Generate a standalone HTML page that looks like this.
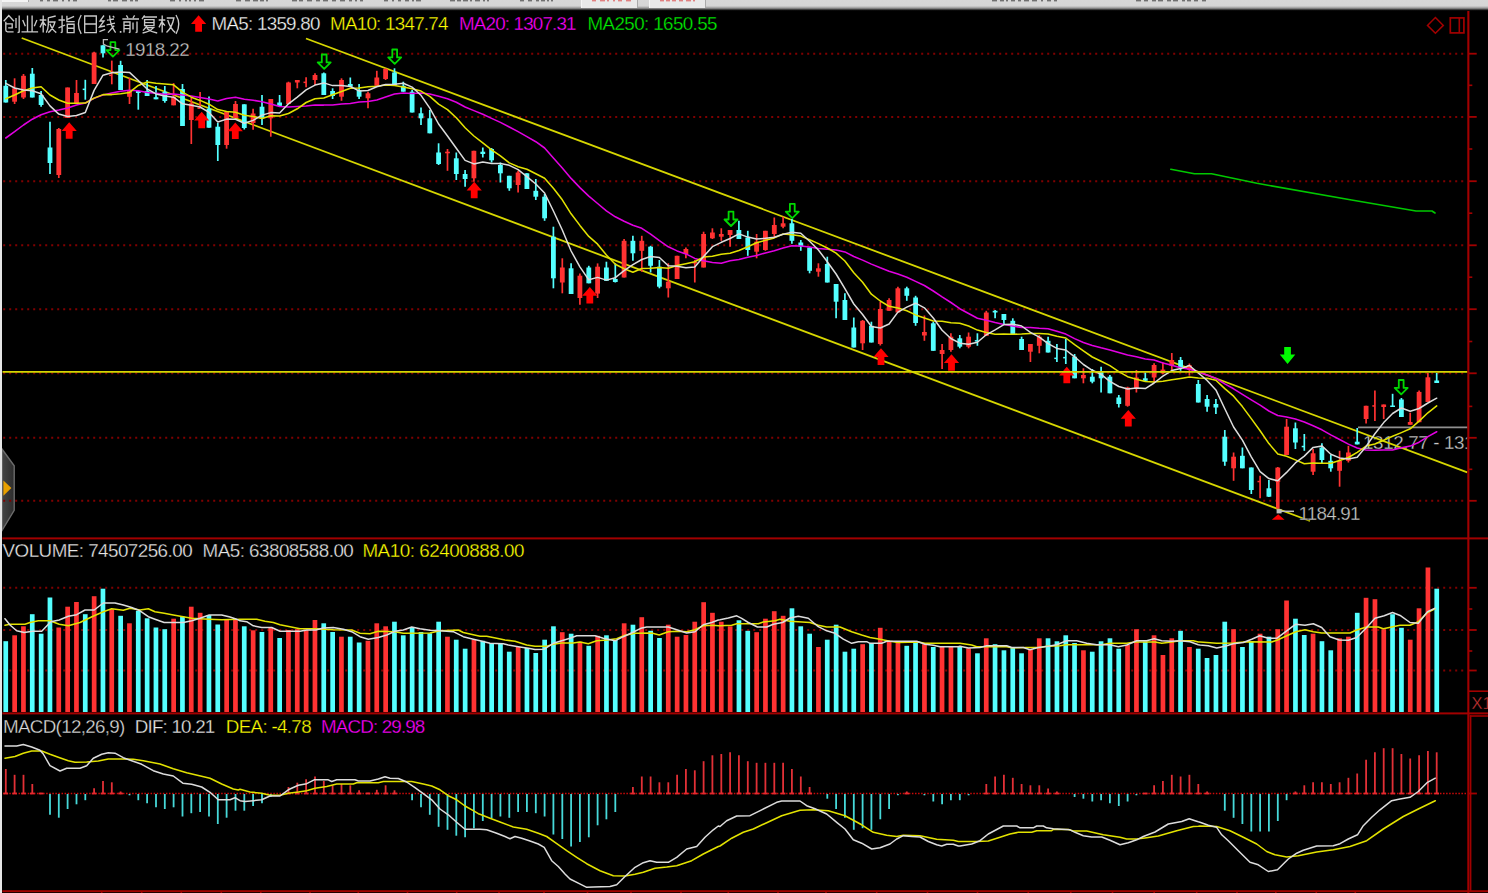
<!DOCTYPE html>
<html><head><meta charset="utf-8"><title>chart</title>
<style>
html,body{margin:0;padding:0;background:#000;}
body{width:1488px;height:893px;overflow:hidden;position:relative;font-family:"Liberation Sans",sans-serif;}
#top{position:absolute;left:0;top:0;width:1488px;height:11px;background:linear-gradient(to bottom,#d8d8d8 0,#d6d6d6 5.5px,#bdbdbd 7px,#7c7c7c 8.6px,#2a2a2a 9.9px,#000 10.7px);}
#left{position:absolute;left:0;top:0;width:2.3px;height:893px;background:#e6e6e6;}
svg{position:absolute;left:0;top:0;}
text{font-family:"Liberation Sans",sans-serif;stroke:#000;stroke-width:0.3px;}
.btn{position:absolute;top:0;height:8px;background:#e9e9e9;border-left:1px solid #f6f6f6;border-right:1px solid #aaa;}
</style></head><body>
<svg width="1488" height="893" viewBox="0 0 1488 893">
<rect x="0" y="0" width="1488" height="893" fill="#000"/>
<defs><linearGradient id="tg" x1="0" x2="1" y1="0" y2="0"><stop offset="0" stop-color="#454545"/><stop offset="1" stop-color="#2c2c2c"/></linearGradient></defs>
<path d="M2 449 L14.2 465.8 V510.4 L2 530.6 Z" fill="url(#tg)" stroke="#6c6c6c" stroke-width="1.4"/>
<path d="M3.4 480.4 L11.4 488 L3.4 495.8 Z" fill="#e8a000"/>
<line x1="3.2" y1="53.7" x2="1464" y2="53.7" stroke="#800000" stroke-width="2" stroke-dasharray="2 4"/>
<line x1="3.2" y1="116.9" x2="1464" y2="116.9" stroke="#800000" stroke-width="2" stroke-dasharray="2 4"/>
<line x1="3.2" y1="181.2" x2="1464" y2="181.2" stroke="#800000" stroke-width="2" stroke-dasharray="2 4"/>
<line x1="3.2" y1="245.3" x2="1464" y2="245.3" stroke="#800000" stroke-width="2" stroke-dasharray="2 4"/>
<line x1="3.2" y1="309.2" x2="1464" y2="309.2" stroke="#800000" stroke-width="2" stroke-dasharray="2 4"/>
<line x1="3.2" y1="373.3" x2="1464" y2="373.3" stroke="#800000" stroke-width="2" stroke-dasharray="2 4"/>
<line x1="3.2" y1="437.8" x2="1464" y2="437.8" stroke="#800000" stroke-width="2" stroke-dasharray="2 4"/>
<line x1="3.2" y1="500.8" x2="1464" y2="500.8" stroke="#800000" stroke-width="2" stroke-dasharray="2 4"/>
<line x1="3.2" y1="587.8" x2="1464" y2="587.8" stroke="#800000" stroke-width="2" stroke-dasharray="2 4"/>
<line x1="3.2" y1="630" x2="1464" y2="630" stroke="#800000" stroke-width="2" stroke-dasharray="2 4"/>
<line x1="3.2" y1="670.5" x2="1464" y2="670.5" stroke="#800000" stroke-width="2" stroke-dasharray="2 4"/>
<rect x="1357.6" y="428.2" width="109.8" height="23.5" fill="#000"/>
<clipPath id="lc"><rect x="1357" y="428" width="110.3" height="25"/></clipPath>
<text clip-path="url(#lc)" x="1363" y="449.2" fill="#c8c8c8" font-size="18.8" textLength="111.5" lengthAdjust="spacing">1312.77 - 131</text>
<line x1="1358" y1="427.4" x2="1467.5" y2="427.4" stroke="#909090" stroke-width="1.7"/>
<line x1="21.7" y1="38" x2="1310" y2="521" stroke="#d6d600" stroke-width="1.8"/>
<line x1="306" y1="38.5" x2="1467.3" y2="472.3" stroke="#d6d600" stroke-width="1.8"/>
<line x1="5.8" y1="80" x2="5.8" y2="102.5" stroke="#54ffff" stroke-width="1.7"/>
<rect x="3.4" y="85.8" width="4.8" height="16.7" fill="#54ffff"/>
<line x1="14.6" y1="78.3" x2="14.6" y2="104" stroke="#ff3232" stroke-width="1.7"/>
<rect x="12.2" y="88.3" width="4.8" height="13.4" fill="#ff3232"/>
<line x1="23.5" y1="74" x2="23.5" y2="99" stroke="#ff3232" stroke-width="1.7"/>
<rect x="21.1" y="75.8" width="4.8" height="21.7" fill="#ff3232"/>
<line x1="32.3" y1="68" x2="32.3" y2="97.5" stroke="#54ffff" stroke-width="1.7"/>
<rect x="29.9" y="73.7" width="4.8" height="23.8" fill="#54ffff"/>
<line x1="41.1" y1="91" x2="41.1" y2="106.7" stroke="#54ffff" stroke-width="1.7"/>
<rect x="38.7" y="95" width="4.8" height="10" fill="#54ffff"/>
<line x1="50" y1="121.7" x2="50" y2="174" stroke="#54ffff" stroke-width="1.7"/>
<rect x="47.6" y="147.5" width="4.8" height="15.5" fill="#54ffff"/>
<line x1="58.8" y1="128" x2="58.8" y2="178" stroke="#ff3232" stroke-width="1.7"/>
<rect x="56.4" y="129" width="4.8" height="46" fill="#ff3232"/>
<line x1="67.6" y1="87.5" x2="67.6" y2="118" stroke="#ff3232" stroke-width="1.7"/>
<rect x="65.2" y="87.5" width="4.8" height="30.5" fill="#ff3232"/>
<line x1="76.5" y1="80" x2="76.5" y2="103" stroke="#ff3232" stroke-width="1.7"/>
<rect x="74.1" y="93" width="4.8" height="10" fill="#ff3232"/>
<line x1="85.3" y1="79.8" x2="85.3" y2="99.7" stroke="#54ffff" stroke-width="1.7"/>
<rect x="82.7" y="88.6" width="2.6" height="1.5" fill="#54ffff"/>
<line x1="94.1" y1="51.7" x2="94.1" y2="84" stroke="#ff3232" stroke-width="1.7"/>
<rect x="91.7" y="52.5" width="4.8" height="31.5" fill="#ff3232"/>
<line x1="103" y1="45.3" x2="103" y2="57.5" stroke="#54ffff" stroke-width="1.7"/>
<rect x="100.6" y="45.3" width="4.8" height="8" fill="#54ffff"/>
<line x1="111.8" y1="60.6" x2="111.8" y2="84.3" stroke="#ff3232" stroke-width="1.7"/>
<rect x="109.2" y="74.6" width="2.6" height="1.5" fill="#ff3232"/>
<line x1="120.6" y1="60.8" x2="120.6" y2="90" stroke="#54ffff" stroke-width="1.7"/>
<rect x="118.2" y="65" width="4.8" height="25" fill="#54ffff"/>
<line x1="129.5" y1="77.7" x2="129.5" y2="104" stroke="#ff3232" stroke-width="1.7"/>
<rect x="127.1" y="91" width="4.8" height="5.8" fill="#ff3232"/>
<line x1="138.3" y1="90" x2="138.3" y2="109.7" stroke="#54ffff" stroke-width="1.7"/>
<rect x="135.9" y="91" width="4.8" height="2" fill="#54ffff"/>
<line x1="147.1" y1="80" x2="147.1" y2="96" stroke="#54ffff" stroke-width="1.7"/>
<rect x="144.7" y="91" width="4.8" height="5" fill="#54ffff"/>
<line x1="156" y1="86" x2="156" y2="99.3" stroke="#54ffff" stroke-width="1.7"/>
<rect x="153.6" y="97.2" width="4.8" height="2.1" fill="#54ffff"/>
<line x1="164.8" y1="86" x2="164.8" y2="102.7" stroke="#54ffff" stroke-width="1.7"/>
<rect x="162.4" y="91.8" width="4.8" height="9.2" fill="#54ffff"/>
<line x1="173.6" y1="83.1" x2="173.6" y2="105.3" stroke="#ff3232" stroke-width="1.7"/>
<rect x="171.2" y="96.9" width="4.8" height="8.4" fill="#ff3232"/>
<line x1="182.5" y1="84" x2="182.5" y2="126" stroke="#54ffff" stroke-width="1.7"/>
<rect x="180.1" y="89" width="4.8" height="37" fill="#54ffff"/>
<line x1="191.3" y1="97.3" x2="191.3" y2="144" stroke="#ff3232" stroke-width="1.7"/>
<rect x="188.9" y="103.4" width="4.8" height="16.6" fill="#ff3232"/>
<line x1="200.1" y1="92.1" x2="200.1" y2="108.6" stroke="#ff3232" stroke-width="1.7"/>
<rect x="197.5" y="107.4" width="2.6" height="1.5" fill="#ff3232"/>
<line x1="209" y1="96.6" x2="209" y2="127.7" stroke="#54ffff" stroke-width="1.7"/>
<rect x="206.6" y="108.6" width="4.8" height="19.1" fill="#54ffff"/>
<line x1="217.8" y1="123" x2="217.8" y2="161" stroke="#54ffff" stroke-width="1.7"/>
<rect x="215.4" y="126.7" width="4.8" height="18.3" fill="#54ffff"/>
<line x1="226.6" y1="111.7" x2="226.6" y2="148.7" stroke="#ff3232" stroke-width="1.7"/>
<rect x="224.2" y="111.7" width="4.8" height="33.3" fill="#ff3232"/>
<line x1="235.5" y1="101" x2="235.5" y2="118" stroke="#ff3232" stroke-width="1.7"/>
<rect x="233.1" y="104" width="4.8" height="14" fill="#ff3232"/>
<line x1="244.3" y1="104.3" x2="244.3" y2="129.5" stroke="#54ffff" stroke-width="1.7"/>
<rect x="241.9" y="104.3" width="4.8" height="23.7" fill="#54ffff"/>
<line x1="253.1" y1="108.7" x2="253.1" y2="129.7" stroke="#ff3232" stroke-width="1.7"/>
<rect x="250.7" y="113.5" width="4.8" height="9.5" fill="#ff3232"/>
<line x1="262" y1="95" x2="262" y2="125" stroke="#54ffff" stroke-width="1.7"/>
<rect x="259.6" y="106.7" width="4.8" height="11.6" fill="#54ffff"/>
<line x1="270.8" y1="99" x2="270.8" y2="136.7" stroke="#ff3232" stroke-width="1.7"/>
<rect x="268.4" y="99" width="4.8" height="19.3" fill="#ff3232"/>
<line x1="279.6" y1="95" x2="279.6" y2="106.7" stroke="#54ffff" stroke-width="1.7"/>
<rect x="277.2" y="102.5" width="4.8" height="3.3" fill="#54ffff"/>
<line x1="288.5" y1="81.7" x2="288.5" y2="104" stroke="#ff3232" stroke-width="1.7"/>
<rect x="286.1" y="82.5" width="4.8" height="21.5" fill="#ff3232"/>
<line x1="297.3" y1="80" x2="297.3" y2="88.3" stroke="#ff3232" stroke-width="1.7"/>
<rect x="294.9" y="80" width="4.8" height="2.5" fill="#ff3232"/>
<line x1="306.1" y1="77.3" x2="306.1" y2="87.3" stroke="#ff3232" stroke-width="1.7"/>
<rect x="303.5" y="81.6" width="2.6" height="1.5" fill="#ff3232"/>
<line x1="315" y1="73.3" x2="315" y2="85" stroke="#ff3232" stroke-width="1.7"/>
<rect x="312.6" y="75" width="4.8" height="5" fill="#ff3232"/>
<line x1="323.8" y1="72.5" x2="323.8" y2="95" stroke="#54ffff" stroke-width="1.7"/>
<rect x="321.4" y="73.3" width="4.8" height="21.7" fill="#54ffff"/>
<line x1="332.6" y1="88.3" x2="332.6" y2="99" stroke="#54ffff" stroke-width="1.7"/>
<rect x="330.2" y="91" width="4.8" height="5" fill="#54ffff"/>
<line x1="341.5" y1="78.3" x2="341.5" y2="100.8" stroke="#ff3232" stroke-width="1.7"/>
<rect x="339.1" y="80" width="4.8" height="16.7" fill="#ff3232"/>
<line x1="350.3" y1="77.5" x2="350.3" y2="86.7" stroke="#54ffff" stroke-width="1.7"/>
<rect x="347.9" y="84" width="4.8" height="2.7" fill="#54ffff"/>
<line x1="359.1" y1="84" x2="359.1" y2="99" stroke="#54ffff" stroke-width="1.7"/>
<rect x="356.7" y="90" width="4.8" height="6.7" fill="#54ffff"/>
<line x1="368" y1="91.7" x2="368" y2="108.3" stroke="#ff3232" stroke-width="1.7"/>
<rect x="365.6" y="93.3" width="4.8" height="5" fill="#ff3232"/>
<line x1="376.8" y1="70.8" x2="376.8" y2="85.8" stroke="#ff3232" stroke-width="1.7"/>
<rect x="374.4" y="77.5" width="4.8" height="8.3" fill="#ff3232"/>
<line x1="385.6" y1="68.3" x2="385.6" y2="80" stroke="#ff3232" stroke-width="1.7"/>
<rect x="383.2" y="69" width="4.8" height="10" fill="#ff3232"/>
<line x1="394.5" y1="68.3" x2="394.5" y2="85" stroke="#54ffff" stroke-width="1.7"/>
<rect x="392.1" y="72.5" width="4.8" height="12.5" fill="#54ffff"/>
<line x1="403.3" y1="81.7" x2="403.3" y2="91.7" stroke="#54ffff" stroke-width="1.7"/>
<rect x="400.9" y="85.8" width="4.8" height="5.9" fill="#54ffff"/>
<line x1="412.1" y1="90" x2="412.1" y2="112.5" stroke="#54ffff" stroke-width="1.7"/>
<rect x="409.7" y="91.7" width="4.8" height="20.8" fill="#54ffff"/>
<line x1="421" y1="107.5" x2="421" y2="125" stroke="#54ffff" stroke-width="1.7"/>
<rect x="418.6" y="113.3" width="4.8" height="5" fill="#54ffff"/>
<line x1="429.8" y1="110" x2="429.8" y2="133.3" stroke="#54ffff" stroke-width="1.7"/>
<rect x="427.4" y="118.3" width="4.8" height="15" fill="#54ffff"/>
<line x1="438.6" y1="143.3" x2="438.6" y2="165" stroke="#54ffff" stroke-width="1.7"/>
<rect x="436.2" y="152.5" width="4.8" height="11.5" fill="#54ffff"/>
<line x1="447.5" y1="149" x2="447.5" y2="170.8" stroke="#ff3232" stroke-width="1.7"/>
<rect x="445.1" y="151.7" width="4.8" height="1.6" fill="#ff3232"/>
<line x1="456.3" y1="152.5" x2="456.3" y2="180" stroke="#54ffff" stroke-width="1.7"/>
<rect x="453.9" y="158.3" width="4.8" height="15.7" fill="#54ffff"/>
<line x1="465.1" y1="170" x2="465.1" y2="186.7" stroke="#54ffff" stroke-width="1.7"/>
<rect x="462.7" y="174" width="4.8" height="5" fill="#54ffff"/>
<line x1="473.9" y1="150.8" x2="473.9" y2="181.7" stroke="#ff3232" stroke-width="1.7"/>
<rect x="471.5" y="150.8" width="4.8" height="27.5" fill="#ff3232"/>
<line x1="482.8" y1="147.5" x2="482.8" y2="157.5" stroke="#54ffff" stroke-width="1.7"/>
<rect x="480.4" y="151.7" width="4.8" height="2.3" fill="#54ffff"/>
<line x1="491.6" y1="148" x2="491.6" y2="162.5" stroke="#54ffff" stroke-width="1.7"/>
<rect x="489.2" y="149" width="4.8" height="11.3" fill="#54ffff"/>
<line x1="500.4" y1="162.5" x2="500.4" y2="182.5" stroke="#54ffff" stroke-width="1.7"/>
<rect x="498" y="165" width="4.8" height="8.3" fill="#54ffff"/>
<line x1="509.3" y1="175.8" x2="509.3" y2="190.8" stroke="#54ffff" stroke-width="1.7"/>
<rect x="506.9" y="175.8" width="4.8" height="12.5" fill="#54ffff"/>
<line x1="518.1" y1="170.8" x2="518.1" y2="192.5" stroke="#ff3232" stroke-width="1.7"/>
<rect x="515.7" y="172.5" width="4.8" height="12.5" fill="#ff3232"/>
<line x1="526.9" y1="173.3" x2="526.9" y2="189" stroke="#54ffff" stroke-width="1.7"/>
<rect x="524.5" y="173.3" width="4.8" height="15.7" fill="#54ffff"/>
<line x1="535.8" y1="179" x2="535.8" y2="200" stroke="#54ffff" stroke-width="1.7"/>
<rect x="533.4" y="190.8" width="4.8" height="5.9" fill="#54ffff"/>
<line x1="544.6" y1="194" x2="544.6" y2="220.8" stroke="#54ffff" stroke-width="1.7"/>
<rect x="542.2" y="196.7" width="4.8" height="21.6" fill="#54ffff"/>
<line x1="553.4" y1="226.7" x2="553.4" y2="288.3" stroke="#54ffff" stroke-width="1.7"/>
<rect x="551" y="236.7" width="4.8" height="41.6" fill="#54ffff"/>
<line x1="562.3" y1="258.3" x2="562.3" y2="293.3" stroke="#ff3232" stroke-width="1.7"/>
<rect x="559.9" y="267.5" width="4.8" height="15" fill="#ff3232"/>
<line x1="571.1" y1="263.3" x2="571.1" y2="294" stroke="#54ffff" stroke-width="1.7"/>
<rect x="568.7" y="268.3" width="4.8" height="25.7" fill="#54ffff"/>
<line x1="579.9" y1="273.4" x2="579.9" y2="304.8" stroke="#ff3232" stroke-width="1.7"/>
<rect x="577.5" y="275.7" width="4.8" height="22.3" fill="#ff3232"/>
<line x1="588.8" y1="265.8" x2="588.8" y2="283.3" stroke="#54ffff" stroke-width="1.7"/>
<rect x="586.4" y="267.5" width="4.8" height="15.8" fill="#54ffff"/>
<line x1="597.6" y1="263.4" x2="597.6" y2="298" stroke="#ff3232" stroke-width="1.7"/>
<rect x="595.2" y="266.7" width="4.8" height="26.9" fill="#ff3232"/>
<line x1="606.4" y1="261.7" x2="606.4" y2="280.8" stroke="#54ffff" stroke-width="1.7"/>
<rect x="604" y="267.5" width="4.8" height="13.3" fill="#54ffff"/>
<line x1="615.3" y1="263.3" x2="615.3" y2="282.5" stroke="#54ffff" stroke-width="1.7"/>
<rect x="612.9" y="279" width="4.8" height="3" fill="#54ffff"/>
<line x1="624.1" y1="239" x2="624.1" y2="277.5" stroke="#ff3232" stroke-width="1.7"/>
<rect x="621.7" y="240.8" width="4.8" height="36.7" fill="#ff3232"/>
<line x1="632.9" y1="235.8" x2="632.9" y2="260.8" stroke="#54ffff" stroke-width="1.7"/>
<rect x="630.5" y="240.8" width="4.8" height="12.5" fill="#54ffff"/>
<line x1="641.8" y1="235.8" x2="641.8" y2="271.7" stroke="#ff3232" stroke-width="1.7"/>
<rect x="639.4" y="240.8" width="4.8" height="10" fill="#ff3232"/>
<line x1="650.6" y1="245.8" x2="650.6" y2="272.5" stroke="#54ffff" stroke-width="1.7"/>
<rect x="648.2" y="246.7" width="4.8" height="19.1" fill="#54ffff"/>
<line x1="659.4" y1="260" x2="659.4" y2="288.3" stroke="#54ffff" stroke-width="1.7"/>
<rect x="657" y="266.7" width="4.8" height="20" fill="#54ffff"/>
<line x1="668.3" y1="263.3" x2="668.3" y2="297.5" stroke="#ff3232" stroke-width="1.7"/>
<rect x="665.9" y="281.7" width="4.8" height="6.6" fill="#ff3232"/>
<line x1="677.1" y1="255.8" x2="677.1" y2="279" stroke="#ff3232" stroke-width="1.7"/>
<rect x="674.7" y="255.8" width="4.8" height="23.2" fill="#ff3232"/>
<line x1="685.9" y1="247.5" x2="685.9" y2="258.3" stroke="#ff3232" stroke-width="1.7"/>
<rect x="683.5" y="249" width="4.8" height="5" fill="#ff3232"/>
<line x1="694.8" y1="260" x2="694.8" y2="282.5" stroke="#ff3232" stroke-width="1.7"/>
<rect x="692.4" y="262" width="4.8" height="1.5" fill="#ff3232"/>
<line x1="703.6" y1="231.7" x2="703.6" y2="267.5" stroke="#ff3232" stroke-width="1.7"/>
<rect x="701.2" y="234" width="4.8" height="33.5" fill="#ff3232"/>
<line x1="712.4" y1="228.3" x2="712.4" y2="239" stroke="#ff3232" stroke-width="1.7"/>
<rect x="710" y="232.5" width="4.8" height="5.8" fill="#ff3232"/>
<line x1="721.3" y1="228.3" x2="721.3" y2="240.8" stroke="#ff3232" stroke-width="1.7"/>
<rect x="718.9" y="234" width="4.8" height="2.7" fill="#ff3232"/>
<line x1="730.1" y1="230" x2="730.1" y2="246.7" stroke="#ff3232" stroke-width="1.7"/>
<rect x="727.7" y="230" width="4.8" height="5" fill="#ff3232"/>
<line x1="738.9" y1="220.8" x2="738.9" y2="239" stroke="#54ffff" stroke-width="1.7"/>
<rect x="736.5" y="230" width="4.8" height="9" fill="#54ffff"/>
<line x1="747.8" y1="230.8" x2="747.8" y2="255.8" stroke="#54ffff" stroke-width="1.7"/>
<rect x="745.4" y="237.5" width="4.8" height="12.5" fill="#54ffff"/>
<line x1="756.6" y1="234" x2="756.6" y2="258.3" stroke="#ff3232" stroke-width="1.7"/>
<rect x="754.2" y="241.7" width="4.8" height="10" fill="#ff3232"/>
<line x1="765.4" y1="230.8" x2="765.4" y2="250.8" stroke="#ff3232" stroke-width="1.7"/>
<rect x="763" y="230.8" width="4.8" height="19.2" fill="#ff3232"/>
<line x1="774.3" y1="217.5" x2="774.3" y2="237.5" stroke="#ff3232" stroke-width="1.7"/>
<rect x="771.9" y="225" width="4.8" height="9" fill="#ff3232"/>
<line x1="783.1" y1="216.7" x2="783.1" y2="228.3" stroke="#ff3232" stroke-width="1.7"/>
<rect x="780.7" y="223.3" width="4.8" height="3.4" fill="#ff3232"/>
<line x1="791.9" y1="219" x2="791.9" y2="243.7" stroke="#54ffff" stroke-width="1.7"/>
<rect x="789.5" y="223.3" width="4.8" height="17.5" fill="#54ffff"/>
<line x1="800.8" y1="240" x2="800.8" y2="250.8" stroke="#54ffff" stroke-width="1.7"/>
<rect x="798.4" y="242.5" width="4.8" height="4.2" fill="#54ffff"/>
<line x1="809.6" y1="246.7" x2="809.6" y2="273.3" stroke="#54ffff" stroke-width="1.7"/>
<rect x="807.2" y="247.5" width="4.8" height="23.3" fill="#54ffff"/>
<line x1="818.4" y1="263.3" x2="818.4" y2="276.7" stroke="#ff3232" stroke-width="1.7"/>
<rect x="816" y="268.3" width="4.8" height="3.4" fill="#ff3232"/>
<line x1="827.3" y1="256.7" x2="827.3" y2="282.5" stroke="#54ffff" stroke-width="1.7"/>
<rect x="824.9" y="264" width="4.8" height="18.5" fill="#54ffff"/>
<line x1="836.1" y1="284" x2="836.1" y2="318.3" stroke="#54ffff" stroke-width="1.7"/>
<rect x="833.7" y="284" width="4.8" height="17.7" fill="#54ffff"/>
<line x1="844.9" y1="293.3" x2="844.9" y2="320" stroke="#54ffff" stroke-width="1.7"/>
<rect x="842.5" y="300" width="4.8" height="20" fill="#54ffff"/>
<line x1="853.8" y1="317.5" x2="853.8" y2="347.5" stroke="#54ffff" stroke-width="1.7"/>
<rect x="851.4" y="327.5" width="4.8" height="20" fill="#54ffff"/>
<line x1="862.6" y1="320" x2="862.6" y2="350" stroke="#ff3232" stroke-width="1.7"/>
<rect x="860.2" y="320.8" width="4.8" height="22.5" fill="#ff3232"/>
<line x1="871.4" y1="321.7" x2="871.4" y2="342.5" stroke="#54ffff" stroke-width="1.7"/>
<rect x="869" y="325.8" width="4.8" height="16.7" fill="#54ffff"/>
<line x1="880.3" y1="301.7" x2="880.3" y2="345.5" stroke="#ff3232" stroke-width="1.7"/>
<rect x="877.9" y="309" width="4.8" height="35" fill="#ff3232"/>
<line x1="889.1" y1="298.3" x2="889.1" y2="310.8" stroke="#ff3232" stroke-width="1.7"/>
<rect x="886.7" y="300" width="4.8" height="10.8" fill="#ff3232"/>
<line x1="897.9" y1="286.7" x2="897.9" y2="312.5" stroke="#ff3232" stroke-width="1.7"/>
<rect x="895.5" y="288.3" width="4.8" height="24.2" fill="#ff3232"/>
<line x1="906.8" y1="286.7" x2="906.8" y2="300.8" stroke="#54ffff" stroke-width="1.7"/>
<rect x="904.4" y="288.3" width="4.8" height="7.5" fill="#54ffff"/>
<line x1="915.6" y1="295.8" x2="915.6" y2="325.8" stroke="#54ffff" stroke-width="1.7"/>
<rect x="913.2" y="297.5" width="4.8" height="25.5" fill="#54ffff"/>
<line x1="924.4" y1="315.5" x2="924.4" y2="340.8" stroke="#ff3232" stroke-width="1.7"/>
<rect x="922" y="332" width="4.8" height="3.5" fill="#ff3232"/>
<line x1="933.3" y1="321.7" x2="933.3" y2="350.8" stroke="#54ffff" stroke-width="1.7"/>
<rect x="930.9" y="323.3" width="4.8" height="27.5" fill="#54ffff"/>
<line x1="942.1" y1="344" x2="942.1" y2="369" stroke="#ff3232" stroke-width="1.7"/>
<rect x="939.7" y="350" width="4.8" height="4" fill="#ff3232"/>
<line x1="950.9" y1="333.3" x2="950.9" y2="351.7" stroke="#ff3232" stroke-width="1.7"/>
<rect x="948.5" y="336.7" width="4.8" height="13.3" fill="#ff3232"/>
<line x1="959.8" y1="335" x2="959.8" y2="348.3" stroke="#54ffff" stroke-width="1.7"/>
<rect x="957.4" y="338.3" width="4.8" height="8.4" fill="#54ffff"/>
<line x1="968.6" y1="332.5" x2="968.6" y2="348.3" stroke="#ff3232" stroke-width="1.7"/>
<rect x="966.2" y="336.7" width="4.8" height="10" fill="#ff3232"/>
<line x1="977.4" y1="333.3" x2="977.4" y2="345.8" stroke="#54ffff" stroke-width="1.7"/>
<rect x="974.8" y="340.1" width="2.6" height="1.5" fill="#54ffff"/>
<line x1="986.3" y1="310.8" x2="986.3" y2="335.8" stroke="#ff3232" stroke-width="1.7"/>
<rect x="983.9" y="312.5" width="4.8" height="23.3" fill="#ff3232"/>
<line x1="995.1" y1="310" x2="995.1" y2="318.3" stroke="#54ffff" stroke-width="1.7"/>
<rect x="992.7" y="310.8" width="4.8" height="1.7" fill="#54ffff"/>
<line x1="1003.9" y1="314" x2="1003.9" y2="324" stroke="#54ffff" stroke-width="1.7"/>
<rect x="1001.5" y="314" width="4.8" height="6" fill="#54ffff"/>
<line x1="1012.8" y1="318.3" x2="1012.8" y2="335" stroke="#54ffff" stroke-width="1.7"/>
<rect x="1010.4" y="320.8" width="4.8" height="14.2" fill="#54ffff"/>
<line x1="1021.6" y1="336.7" x2="1021.6" y2="350" stroke="#54ffff" stroke-width="1.7"/>
<rect x="1019.2" y="339" width="4.8" height="11" fill="#54ffff"/>
<line x1="1030.4" y1="344" x2="1030.4" y2="362" stroke="#ff3232" stroke-width="1.7"/>
<rect x="1028" y="344" width="4.8" height="7.7" fill="#ff3232"/>
<line x1="1039.3" y1="335" x2="1039.3" y2="353.3" stroke="#ff3232" stroke-width="1.7"/>
<rect x="1036.9" y="336.7" width="4.8" height="9.1" fill="#ff3232"/>
<line x1="1048.1" y1="336.7" x2="1048.1" y2="352.5" stroke="#54ffff" stroke-width="1.7"/>
<rect x="1045.7" y="340.8" width="4.8" height="11.7" fill="#54ffff"/>
<line x1="1056.9" y1="344" x2="1056.9" y2="362" stroke="#54ffff" stroke-width="1.7"/>
<rect x="1054.3" y="357.6" width="2.6" height="1.5" fill="#54ffff"/>
<line x1="1065.8" y1="339" x2="1065.8" y2="364" stroke="#54ffff" stroke-width="1.7"/>
<rect x="1063.2" y="356.9" width="2.6" height="1.5" fill="#54ffff"/>
<line x1="1074.6" y1="354" x2="1074.6" y2="378.3" stroke="#54ffff" stroke-width="1.7"/>
<rect x="1072.2" y="356.7" width="4.8" height="21.6" fill="#54ffff"/>
<line x1="1083.4" y1="368.3" x2="1083.4" y2="383.3" stroke="#ff3232" stroke-width="1.7"/>
<rect x="1081" y="375" width="4.8" height="3.3" fill="#ff3232"/>
<line x1="1092.3" y1="369" x2="1092.3" y2="383.3" stroke="#54ffff" stroke-width="1.7"/>
<rect x="1089.9" y="376.7" width="4.8" height="5" fill="#54ffff"/>
<line x1="1101.1" y1="366.7" x2="1101.1" y2="392.5" stroke="#54ffff" stroke-width="1.7"/>
<rect x="1098.7" y="371.7" width="4.8" height="6.6" fill="#54ffff"/>
<line x1="1109.9" y1="375" x2="1109.9" y2="393.3" stroke="#54ffff" stroke-width="1.7"/>
<rect x="1107.5" y="376.7" width="4.8" height="16.6" fill="#54ffff"/>
<line x1="1118.8" y1="395" x2="1118.8" y2="407.5" stroke="#54ffff" stroke-width="1.7"/>
<rect x="1116.4" y="397.5" width="4.8" height="6.5" fill="#54ffff"/>
<line x1="1127.6" y1="386.7" x2="1127.6" y2="406.7" stroke="#ff3232" stroke-width="1.7"/>
<rect x="1125.2" y="387.5" width="4.8" height="18.3" fill="#ff3232"/>
<line x1="1136.4" y1="370" x2="1136.4" y2="392.5" stroke="#ff3232" stroke-width="1.7"/>
<rect x="1134" y="377.5" width="4.8" height="10.8" fill="#ff3232"/>
<line x1="1145.3" y1="372.5" x2="1145.3" y2="381.7" stroke="#54ffff" stroke-width="1.7"/>
<rect x="1142.9" y="378.3" width="4.8" height="2.5" fill="#54ffff"/>
<line x1="1154.1" y1="363.3" x2="1154.1" y2="382.5" stroke="#ff3232" stroke-width="1.7"/>
<rect x="1151.7" y="365" width="4.8" height="12.5" fill="#ff3232"/>
<line x1="1162.9" y1="362.2" x2="1162.9" y2="374.3" stroke="#ff3232" stroke-width="1.7"/>
<rect x="1160.5" y="369.6" width="4.8" height="3.7" fill="#ff3232"/>
<line x1="1171.8" y1="353" x2="1171.8" y2="370" stroke="#ff3232" stroke-width="1.7"/>
<rect x="1169.4" y="360" width="4.8" height="5.8" fill="#ff3232"/>
<line x1="1180.6" y1="357" x2="1180.6" y2="370.8" stroke="#54ffff" stroke-width="1.7"/>
<rect x="1178.2" y="360" width="4.8" height="7.5" fill="#54ffff"/>
<line x1="1189.4" y1="363.5" x2="1189.4" y2="375.6" stroke="#ff3232" stroke-width="1.7"/>
<rect x="1187" y="365.2" width="4.8" height="4.4" fill="#ff3232"/>
<line x1="1198.3" y1="380" x2="1198.3" y2="402.5" stroke="#54ffff" stroke-width="1.7"/>
<rect x="1195.9" y="384" width="4.8" height="18.5" fill="#54ffff"/>
<line x1="1207.1" y1="395" x2="1207.1" y2="411.7" stroke="#54ffff" stroke-width="1.7"/>
<rect x="1204.7" y="399" width="4.8" height="7.7" fill="#54ffff"/>
<line x1="1215.9" y1="399" x2="1215.9" y2="414" stroke="#54ffff" stroke-width="1.7"/>
<rect x="1213.5" y="404" width="4.8" height="3.5" fill="#54ffff"/>
<line x1="1224.8" y1="430" x2="1224.8" y2="465.8" stroke="#54ffff" stroke-width="1.7"/>
<rect x="1222.4" y="436.7" width="4.8" height="25" fill="#54ffff"/>
<line x1="1233.6" y1="452.5" x2="1233.6" y2="480.8" stroke="#ff3232" stroke-width="1.7"/>
<rect x="1231.2" y="456.7" width="4.8" height="11.6" fill="#ff3232"/>
<line x1="1242.4" y1="447.5" x2="1242.4" y2="468.3" stroke="#54ffff" stroke-width="1.7"/>
<rect x="1240" y="455.8" width="4.8" height="12.5" fill="#54ffff"/>
<line x1="1251.3" y1="467.5" x2="1251.3" y2="494" stroke="#54ffff" stroke-width="1.7"/>
<rect x="1248.9" y="467.5" width="4.8" height="22.5" fill="#54ffff"/>
<line x1="1260.1" y1="475.8" x2="1260.1" y2="498.3" stroke="#ff3232" stroke-width="1.7"/>
<rect x="1257.5" y="480.8" width="2.6" height="1.5" fill="#ff3232"/>
<line x1="1268.9" y1="480" x2="1268.9" y2="497" stroke="#54ffff" stroke-width="1.7"/>
<rect x="1266.5" y="488.3" width="4.8" height="8.4" fill="#54ffff"/>
<line x1="1277.8" y1="467" x2="1277.8" y2="508.5" stroke="#ff3232" stroke-width="1.7"/>
<rect x="1276" y="482" width="3.6" height="26.5" fill="#ff3232"/>
<rect x="1275.4" y="467.6" width="4.8" height="14.4" fill="#ff3232"/>
<line x1="1286.6" y1="419" x2="1286.6" y2="455" stroke="#ff3232" stroke-width="1.7"/>
<rect x="1284.2" y="426.7" width="4.8" height="28.3" fill="#ff3232"/>
<line x1="1295.4" y1="422.5" x2="1295.4" y2="449" stroke="#54ffff" stroke-width="1.7"/>
<rect x="1293" y="428.3" width="4.8" height="14.2" fill="#54ffff"/>
<line x1="1304.3" y1="434" x2="1304.3" y2="450.8" stroke="#54ffff" stroke-width="1.7"/>
<rect x="1301.7" y="445.8" width="2.6" height="1.5" fill="#54ffff"/>
<line x1="1313.1" y1="449" x2="1313.1" y2="475" stroke="#ff3232" stroke-width="1.7"/>
<rect x="1310.7" y="453.3" width="4.8" height="18.4" fill="#ff3232"/>
<line x1="1321.9" y1="443.3" x2="1321.9" y2="464" stroke="#54ffff" stroke-width="1.7"/>
<rect x="1319.5" y="447.5" width="4.8" height="12.5" fill="#54ffff"/>
<line x1="1330.8" y1="455" x2="1330.8" y2="471.7" stroke="#54ffff" stroke-width="1.7"/>
<rect x="1328.3" y="460.8" width="4.8" height="7.5" fill="#54ffff"/>
<line x1="1339.6" y1="450.8" x2="1339.6" y2="486.7" stroke="#ff3232" stroke-width="1.7"/>
<rect x="1337.2" y="460.8" width="4.8" height="10" fill="#ff3232"/>
<line x1="1348.4" y1="445.8" x2="1348.4" y2="462.5" stroke="#ff3232" stroke-width="1.7"/>
<rect x="1346" y="452.5" width="4.8" height="8.3" fill="#ff3232"/>
<line x1="1357.2" y1="428" x2="1357.2" y2="444.4" stroke="#54ffff" stroke-width="1.7"/>
<rect x="1354.8" y="441.7" width="4.8" height="2.7" fill="#54ffff"/>
<line x1="1366.1" y1="405.8" x2="1366.1" y2="423.5" stroke="#ff3232" stroke-width="1.7"/>
<rect x="1363.7" y="405.8" width="4.8" height="13.2" fill="#ff3232"/>
<line x1="1374.9" y1="390.6" x2="1374.9" y2="421" stroke="#ff3232" stroke-width="1.7"/>
<rect x="1372.3" y="405.2" width="2.6" height="1.5" fill="#ff3232"/>
<line x1="1383.7" y1="404.5" x2="1383.7" y2="419" stroke="#ff3232" stroke-width="1.7"/>
<rect x="1381.3" y="404.5" width="4.8" height="2.5" fill="#ff3232"/>
<line x1="1392.6" y1="393.8" x2="1392.6" y2="407" stroke="#54ffff" stroke-width="1.7"/>
<rect x="1390.2" y="405.5" width="4.8" height="1.5" fill="#54ffff"/>
<line x1="1401.4" y1="398" x2="1401.4" y2="417" stroke="#54ffff" stroke-width="1.7"/>
<rect x="1399" y="399.5" width="4.8" height="17.5" fill="#54ffff"/>
<line x1="1410.2" y1="412.7" x2="1410.2" y2="424.8" stroke="#ff3232" stroke-width="1.7"/>
<rect x="1407.8" y="422" width="4.8" height="2.8" fill="#ff3232"/>
<line x1="1419.1" y1="390.6" x2="1419.1" y2="422.2" stroke="#ff3232" stroke-width="1.7"/>
<rect x="1416.7" y="391.9" width="4.8" height="30.3" fill="#ff3232"/>
<line x1="1427.9" y1="373" x2="1427.9" y2="402" stroke="#ff3232" stroke-width="1.7"/>
<rect x="1425.5" y="377.3" width="4.8" height="24.7" fill="#ff3232"/>
<line x1="1436.7" y1="373" x2="1436.7" y2="383" stroke="#54ffff" stroke-width="1.7"/>
<rect x="1434.3" y="380.5" width="4.8" height="2.5" fill="#54ffff"/>
<polyline fill="none" stroke="#e200e2" stroke-width="1.55" stroke-linejoin="round" stroke-linecap="round" points="5.8,138 14.6,131.7 23.5,125 32.3,119.2 41.1,114.7 50,111.7 58.8,110 67.6,108 76.5,105 85.3,103 94.1,98.3 103,95 111.8,93 120.6,91.3 129.5,90.3 138.3,90.8 147.1,92.5 156,93.3 164.8,94.2 173.6,94 182.5,95.1 191.3,95.9 200.1,97.5 209,99 217.8,101 226.6,98.4 235.5,97.2 244.3,99.2 253.1,100.2 262,101.7 270.8,104 279.6,106.6 288.5,107 297.3,106.5 306.1,106 315,105.1 323.8,105.1 332.6,104.9 341.5,103.9 350.3,103.4 359.1,101.9 368,101.4 376.8,99.9 385.6,97 394.5,94 403.3,93 412.1,93.4 421,92.9 429.8,93.9 438.6,96.2 447.5,98.8 456.3,102.2 465.1,107 473.9,110.6 482.8,114.2 491.6,118.4 500.4,122.4 509.3,127 518.1,131.6 526.9,136.7 535.8,141.7 544.6,148 553.4,158 562.3,167.9 571.1,178.4 579.9,187.6 588.8,196.1 597.6,203.5 606.4,210.9 615.3,216.8 624.1,221.3 632.9,225.2 641.8,228.3 650.6,234.1 659.4,240.7 668.3,246.8 677.1,250.9 685.9,253.9 694.8,258.4 703.6,260.7 712.4,262.4 721.3,263.2 730.1,260.8 738.9,259.4 747.8,257.2 756.6,255.5 765.4,252.9 774.3,250.8 783.1,247.9 791.9,245.8 800.8,246.1 809.6,247 818.4,248.4 827.3,249.2 836.1,250 844.9,251.9 853.8,256.5 862.6,260.1 871.4,264.1 880.3,267.8 889.1,271.2 897.9,273.9 906.8,277.2 915.6,281.4 924.4,285.5 933.3,291 942.1,296.9 950.9,302.5 959.8,308.7 968.6,313.5 977.4,318.2 986.3,320.3 995.1,322.5 1003.9,324.4 1012.8,326.1 1021.6,327.6 1030.4,327.4 1039.3,328.2 1048.1,328.7 1056.9,331.2 1065.8,334.1 1074.6,338.6 1083.4,342.5 1092.3,345.4 1101.1,347.8 1109.9,349.9 1118.8,352.6 1127.6,355.1 1136.4,356.7 1145.3,358.9 1154.1,360.1 1162.9,362.9 1171.8,365.3 1180.6,367.7 1189.4,369.2 1198.3,371.8 1207.1,374.9 1215.9,378.5 1224.8,383.9 1233.6,388.8 1242.4,394.4 1251.3,399.9 1260.1,405.2 1268.9,411 1277.8,415.5 1286.6,417.1 1295.4,419.1 1304.3,422 1313.1,425.8 1321.9,429.8 1330.8,434.9 1339.6,439.5 1348.4,444.1 1357.2,448 1366.1,450 1374.9,450.2 1383.7,450.1 1392.6,450 1401.4,447.8 1410.2,446.1 1419.1,442.2 1427.9,436.6 1436.7,431.7" />
<polyline fill="none" stroke="#e2e200" stroke-width="1.55" stroke-linejoin="round" stroke-linecap="round" points="5.8,98.7 14.6,95 23.5,90.8 32.3,88 41.1,86.7 50,95 58.8,100 67.6,103.3 76.5,103.3 85.3,103.1 94.1,98.1 103,94.6 111.8,94.6 120.6,93.8 129.5,92.4 138.3,85.4 147.1,82.1 156,83.3 164.8,84.1 173.6,84.8 182.5,92.2 191.3,97.2 200.1,100.4 209,104.2 217.8,109.6 226.6,111.5 235.5,112.3 244.3,115.2 253.1,116.4 262,118.5 270.8,115.8 279.6,116.1 288.5,113.5 297.3,108.8 306.1,102.5 315,98.8 323.8,97.9 332.6,94.7 341.5,91.4 350.3,88.2 359.1,88 368,86.7 376.8,86.2 385.6,85.1 394.5,85.4 403.3,87.1 412.1,88.8 421,91.1 429.8,96.4 438.6,104.1 447.5,109.6 456.3,117.7 465.1,127.8 473.9,136 482.8,142.9 491.6,149.8 500.4,155.9 509.3,162.9 518.1,166.8 526.9,169.3 535.8,173.8 544.6,178.2 553.4,188.2 562.3,199.8 571.1,213.8 579.9,225.4 588.8,236.4 597.6,244.2 606.4,255 615.3,264.3 624.1,268.7 632.9,272.2 641.8,268.5 650.6,268.3 659.4,267.6 668.3,268.2 677.1,265.4 685.9,263.7 694.8,261.8 703.6,257 712.4,256.2 721.3,254.2 730.1,253.2 738.9,250.5 747.8,246.8 756.6,242.8 765.4,240.3 774.3,237.9 783.1,234 791.9,234.7 800.8,236.1 809.6,239.8 818.4,243.6 827.3,248 836.1,253.2 844.9,261 853.8,272.7 862.6,282.2 871.4,294.2 880.3,301 889.1,306.3 897.9,308.1 906.8,310.8 915.6,314.9 924.4,317.9 933.3,321 942.1,321.2 950.9,322.8 959.8,323.2 968.6,326 977.4,330.1 986.3,332.5 995.1,334.2 1003.9,333.9 1012.8,334.2 1021.6,334.1 1030.4,333.5 1039.3,333.5 1048.1,334.1 1056.9,336.3 1065.8,338 1074.6,344.6 1083.4,350.8 1092.3,357 1101.1,361.3 1109.9,365.6 1118.8,371.6 1127.6,376.7 1136.4,379.2 1145.3,381.4 1154.1,382.1 1162.9,381.3 1171.8,379.8 1180.6,378.4 1189.4,377 1198.3,378 1207.1,378.2 1215.9,380.2 1224.8,388.6 1233.6,396.2 1242.4,406.6 1251.3,418.6 1260.1,430.7 1268.9,443.6 1277.8,453.9 1286.6,456.3 1295.4,459.9 1304.3,463.8 1313.1,463 1321.9,463.3 1330.8,463.3 1339.6,460.4 1348.4,457.5 1357.2,452.3 1366.1,446.1 1374.9,444 1383.7,440.2 1392.6,436.2 1401.4,432.6 1410.2,428.8 1419.1,421.1 1427.9,412.8 1436.7,405.9" />
<polyline fill="none" stroke="#dcdcdc" stroke-width="1.5" stroke-linejoin="round" stroke-linecap="round" points="5.8,83.3 14.6,88 23.5,90 32.3,90.8 41.1,93.8 50,105.9 58.8,114.1 67.6,116.4 76.5,115.5 85.3,112.5 94.1,90.4 103,75.2 111.8,72.7 120.6,72.1 129.5,72.4 138.3,80.5 147.1,89 156,93.9 164.8,96.1 173.6,97.2 182.5,103.8 191.3,105.3 200.1,107 209,112.4 217.8,122 226.6,119.1 235.5,119.2 244.3,123.3 253.1,120.4 262,115.1 270.8,112.6 279.6,112.9 288.5,103.8 297.3,97.1 306.1,89.9 315,85.1 323.8,82.9 332.6,85.6 341.5,85.6 350.3,86.5 359.1,90.9 368,90.5 376.8,86.8 385.6,84.6 394.5,84.3 403.3,83.3 412.1,87.1 421,95.3 429.8,108.2 438.6,124 447.5,136 456.3,148.3 465.1,160.4 473.9,163.9 482.8,161.9 491.6,163.6 500.4,163.5 509.3,165.3 518.1,169.7 526.9,176.7 535.8,184 544.6,193 553.4,211 562.3,230 571.1,251 579.9,266.8 588.8,279.8 597.6,277.4 606.4,280.1 615.3,277.7 624.1,270.7 632.9,264.7 641.8,259.5 650.6,256.5 659.4,257.5 668.3,265.7 677.1,266.2 685.9,267.8 694.8,267 703.6,256.5 712.4,246.7 721.3,242.3 730.1,238.5 738.9,233.9 747.8,237.1 756.6,238.9 765.4,238.3 774.3,237.3 783.1,234.2 791.9,232.3 800.8,233.3 809.6,241.3 818.4,250 827.3,261.8 836.1,274 844.9,288.7 853.8,304 862.6,314.5 871.4,326.5 880.3,328 889.1,324 897.9,312.1 906.8,307.1 915.6,303.2 924.4,307.8 933.3,318 942.1,330.3 950.9,338.5 959.8,343.2 968.6,344.2 977.4,342.3 986.3,334.8 995.1,329.9 1003.9,324.6 1012.8,324.2 1021.6,326 1030.4,332.3 1039.3,337.1 1048.1,343.6 1056.9,348.4 1065.8,350 1074.6,356.8 1083.4,364.5 1092.3,370.3 1101.1,374.3 1109.9,381.3 1118.8,386.5 1127.6,389 1136.4,388.1 1145.3,388.6 1154.1,383 1162.9,376.1 1171.8,370.6 1180.6,368.6 1189.4,365.5 1198.3,373 1207.1,380.4 1215.9,389.9 1224.8,408.7 1233.6,427 1242.4,440.2 1251.3,456.8 1260.1,471.6 1268.9,478.6 1277.8,480.8 1286.6,472.4 1295.4,462.9 1304.3,456.1 1313.1,447.4 1321.9,445.9 1330.8,454.2 1339.6,457.9 1348.4,459 1357.2,457.2 1366.1,446.4 1374.9,433.8 1383.7,422.6 1392.6,413.5 1401.4,408 1410.2,411.2 1419.1,408.5 1427.9,403 1436.7,398.2" />
<polyline fill="none" stroke="#00c800" stroke-width="1.6" stroke-linejoin="round" stroke-linecap="round" points="1170.8,169.2 1194.4,173.8 1211.5,173.8 1256.9,183.3 1351.6,200 1416,211 1432,211 1435,213" />
<path fill="#ff0000" d="M69.2 122.2 l7.6 8.8 h-4.2 v7.8 h-6.8 v-7.8 h-4.2z"/>
<path fill="#ff0000" d="M201.7 111.7 l7.6 8.8 h-4.2 v7.8 h-6.8 v-7.8 h-4.2z"/>
<path fill="#ff0000" d="M235.3 122.5 l7.6 8.8 h-4.2 v7.8 h-6.8 v-7.8 h-4.2z"/>
<path fill="#ff0000" d="M474.2 181.7 l7.6 8.8 h-4.2 v7.8 h-6.8 v-7.8 h-4.2z"/>
<path fill="#ff0000" d="M589.8 287 l7.6 8.8 h-4.2 v7.8 h-6.8 v-7.8 h-4.2z"/>
<path fill="#ff0000" d="M881 348.3 l7.6 8.8 h-4.2 v7.8 h-6.8 v-7.8 h-4.2z"/>
<path fill="#ff0000" d="M951.5 354.2 l7.6 8.8 h-4.2 v7.8 h-6.8 v-7.8 h-4.2z"/>
<path fill="#ff0000" d="M1066.8 366.7 l7.6 8.8 h-4.2 v7.8 h-6.8 v-7.8 h-4.2z"/>
<path fill="#ff0000" d="M1128.3 410 l7.6 8.8 h-4.2 v7.8 h-6.8 v-7.8 h-4.2z"/>
<path fill="none" stroke="#00d800" stroke-width="1.8" stroke-linejoin="round" d="M110.5 42.2 h4.8 v7.9 h4.1 l-6.5 6.5 l-6.5 -6.5 h4.1z"/>
<path fill="none" stroke="#00d800" stroke-width="1.8" stroke-linejoin="round" d="M321.8 54.5 h4.8 v7.9 h4.1 l-6.5 6.5 l-6.5 -6.5 h4.1z"/>
<path fill="none" stroke="#00d800" stroke-width="1.8" stroke-linejoin="round" d="M392.3 49.5 h4.8 v7.9 h4.1 l-6.5 6.5 l-6.5 -6.5 h4.1z"/>
<path fill="none" stroke="#00d800" stroke-width="1.8" stroke-linejoin="round" d="M728.6 211.6 h4.8 v7.9 h4.1 l-6.5 6.5 l-6.5 -6.5 h4.1z"/>
<path fill="none" stroke="#00d800" stroke-width="1.8" stroke-linejoin="round" d="M789.9 203.8 h4.8 v7.9 h4.1 l-6.5 6.5 l-6.5 -6.5 h4.1z"/>
<path fill="none" stroke="#00d800" stroke-width="1.8" stroke-linejoin="round" d="M1398.8 380 h4.8 v7.9 h4.1 l-6.5 6.5 l-6.5 -6.5 h4.1z"/>
<path fill="#00fa00" d="M1284.2 346.9 h6.7 v7.6 h4.4 l-7.75 9.4 l-7.75 -9.4 h4.4z"/>
<line x1="2.5" y1="371.8" x2="1467.5" y2="371.8" stroke="#d6d600" stroke-width="1.8"/>
<path fill="#ff0000" d="M198.6 15.2 l7.6 8.8 h-4.2 v7.8 h-6.8 v-7.8 h-4.2z"/>
<path fill="#ff0000" d="M1278.2 514.2 l6.4 5.6 h-12.8z"/>
<rect x="1276.6" y="509.2" width="5" height="4.2" fill="#bdbdbd"/>
<line x1="1281" y1="511.3" x2="1294" y2="511.3" stroke="#bdbdbd" stroke-width="1.5"/>
<path fill="none" stroke="#b8b8b8" stroke-width="1.3" d="M108 39.6 h-4.6 v4.4 l4 2.2 l12 3"/>
<rect x="3.4" y="641.2" width="4.7" height="70.8" fill="#54ffff"/>
<rect x="12.3" y="635.3" width="4.7" height="76.7" fill="#ff3232"/>
<rect x="21.1" y="626.3" width="4.7" height="85.7" fill="#ff3232"/>
<rect x="29.9" y="614.2" width="4.7" height="97.8" fill="#54ffff"/>
<rect x="38.8" y="633.7" width="4.7" height="78.3" fill="#54ffff"/>
<rect x="47.6" y="597.5" width="4.7" height="114.5" fill="#54ffff"/>
<rect x="56.4" y="627.5" width="4.7" height="84.5" fill="#ff3232"/>
<rect x="65.3" y="606.7" width="4.7" height="105.3" fill="#ff3232"/>
<rect x="74.1" y="602" width="4.7" height="110" fill="#ff3232"/>
<rect x="82.9" y="614.2" width="4.7" height="97.8" fill="#54ffff"/>
<rect x="91.8" y="596.2" width="4.7" height="115.8" fill="#ff3232"/>
<rect x="100.6" y="588.7" width="4.7" height="123.3" fill="#54ffff"/>
<rect x="109.4" y="609.2" width="4.7" height="102.8" fill="#ff3232"/>
<rect x="118.3" y="615.8" width="4.7" height="96.2" fill="#54ffff"/>
<rect x="127.1" y="623.3" width="4.7" height="88.7" fill="#ff3232"/>
<rect x="135.9" y="610.8" width="4.7" height="101.2" fill="#54ffff"/>
<rect x="144.8" y="618.3" width="4.7" height="93.7" fill="#54ffff"/>
<rect x="153.6" y="627.5" width="4.7" height="84.5" fill="#54ffff"/>
<rect x="162.4" y="629.2" width="4.7" height="82.8" fill="#54ffff"/>
<rect x="171.3" y="618.7" width="4.7" height="93.3" fill="#ff3232"/>
<rect x="180.1" y="616.7" width="4.7" height="95.3" fill="#54ffff"/>
<rect x="188.9" y="606.7" width="4.7" height="105.3" fill="#ff3232"/>
<rect x="197.8" y="612.8" width="4.7" height="99.2" fill="#ff3232"/>
<rect x="206.6" y="615" width="4.7" height="97" fill="#54ffff"/>
<rect x="215.4" y="624.5" width="4.7" height="87.5" fill="#54ffff"/>
<rect x="224.3" y="619.2" width="4.7" height="92.8" fill="#ff3232"/>
<rect x="233.1" y="619.2" width="4.7" height="92.8" fill="#ff3232"/>
<rect x="241.9" y="626.3" width="4.7" height="85.7" fill="#54ffff"/>
<rect x="250.8" y="630.3" width="4.7" height="81.7" fill="#ff3232"/>
<rect x="259.6" y="632" width="4.7" height="80" fill="#54ffff"/>
<rect x="268.4" y="628" width="4.7" height="84" fill="#ff3232"/>
<rect x="277.3" y="638" width="4.7" height="74" fill="#54ffff"/>
<rect x="286.1" y="630" width="4.7" height="82" fill="#ff3232"/>
<rect x="294.9" y="629.2" width="4.7" height="82.8" fill="#ff3232"/>
<rect x="303.8" y="630" width="4.7" height="82" fill="#ff3232"/>
<rect x="312.6" y="620" width="4.7" height="92" fill="#ff3232"/>
<rect x="321.4" y="623.3" width="4.7" height="88.7" fill="#54ffff"/>
<rect x="330.3" y="632" width="4.7" height="80" fill="#54ffff"/>
<rect x="339.1" y="636.7" width="4.7" height="75.3" fill="#ff3232"/>
<rect x="347.9" y="636.7" width="4.7" height="75.3" fill="#54ffff"/>
<rect x="356.8" y="642.5" width="4.7" height="69.5" fill="#54ffff"/>
<rect x="365.6" y="640.8" width="4.7" height="71.2" fill="#ff3232"/>
<rect x="374.4" y="623.3" width="4.7" height="88.7" fill="#ff3232"/>
<rect x="383.3" y="626.3" width="4.7" height="85.7" fill="#ff3232"/>
<rect x="392.1" y="621.7" width="4.7" height="90.3" fill="#54ffff"/>
<rect x="400.9" y="635.3" width="4.7" height="76.7" fill="#54ffff"/>
<rect x="409.8" y="627.5" width="4.7" height="84.5" fill="#54ffff"/>
<rect x="418.6" y="632" width="4.7" height="80" fill="#54ffff"/>
<rect x="427.4" y="633.3" width="4.7" height="78.7" fill="#54ffff"/>
<rect x="436.3" y="621.7" width="4.7" height="90.3" fill="#54ffff"/>
<rect x="445.1" y="636.7" width="4.7" height="75.3" fill="#ff3232"/>
<rect x="453.9" y="639.7" width="4.7" height="72.3" fill="#54ffff"/>
<rect x="462.8" y="648.7" width="4.7" height="63.3" fill="#54ffff"/>
<rect x="471.6" y="640" width="4.7" height="72" fill="#ff3232"/>
<rect x="480.4" y="640.8" width="4.7" height="71.2" fill="#54ffff"/>
<rect x="489.3" y="643.3" width="4.7" height="68.7" fill="#54ffff"/>
<rect x="498.1" y="643.3" width="4.7" height="68.7" fill="#54ffff"/>
<rect x="506.9" y="651.7" width="4.7" height="60.3" fill="#54ffff"/>
<rect x="515.8" y="647" width="4.7" height="65" fill="#ff3232"/>
<rect x="524.6" y="648" width="4.7" height="64" fill="#54ffff"/>
<rect x="533.4" y="653" width="4.7" height="59" fill="#54ffff"/>
<rect x="542.3" y="639.7" width="4.7" height="72.3" fill="#54ffff"/>
<rect x="551.1" y="626.3" width="4.7" height="85.7" fill="#54ffff"/>
<rect x="559.9" y="632.2" width="4.7" height="79.8" fill="#ff3232"/>
<rect x="568.8" y="633.7" width="4.7" height="78.3" fill="#54ffff"/>
<rect x="577.6" y="641.7" width="4.7" height="70.3" fill="#ff3232"/>
<rect x="586.4" y="645.8" width="4.7" height="66.2" fill="#54ffff"/>
<rect x="595.3" y="635.8" width="4.7" height="76.2" fill="#ff3232"/>
<rect x="604.1" y="635.3" width="4.7" height="76.7" fill="#54ffff"/>
<rect x="612.9" y="640" width="4.7" height="72" fill="#54ffff"/>
<rect x="621.8" y="623.3" width="4.7" height="88.7" fill="#ff3232"/>
<rect x="630.6" y="624.7" width="4.7" height="87.3" fill="#54ffff"/>
<rect x="639.4" y="617.2" width="4.7" height="94.8" fill="#ff3232"/>
<rect x="648.3" y="630.8" width="4.7" height="81.2" fill="#54ffff"/>
<rect x="657.1" y="638" width="4.7" height="74" fill="#54ffff"/>
<rect x="665.9" y="624.7" width="4.7" height="87.3" fill="#ff3232"/>
<rect x="674.8" y="636.7" width="4.7" height="75.3" fill="#ff3232"/>
<rect x="683.6" y="635" width="4.7" height="77" fill="#ff3232"/>
<rect x="692.4" y="621.7" width="4.7" height="90.3" fill="#ff3232"/>
<rect x="701.3" y="602.2" width="4.7" height="109.8" fill="#ff3232"/>
<rect x="710.1" y="612.8" width="4.7" height="99.2" fill="#ff3232"/>
<rect x="718.9" y="621.7" width="4.7" height="90.3" fill="#ff3232"/>
<rect x="727.8" y="626.3" width="4.7" height="85.7" fill="#ff3232"/>
<rect x="736.6" y="620.3" width="4.7" height="91.7" fill="#54ffff"/>
<rect x="745.4" y="630.8" width="4.7" height="81.2" fill="#54ffff"/>
<rect x="754.3" y="632.2" width="4.7" height="79.8" fill="#ff3232"/>
<rect x="763.1" y="618.7" width="4.7" height="93.3" fill="#ff3232"/>
<rect x="771.9" y="611.2" width="4.7" height="100.8" fill="#ff3232"/>
<rect x="780.8" y="615.8" width="4.7" height="96.2" fill="#ff3232"/>
<rect x="789.6" y="608.3" width="4.7" height="103.7" fill="#54ffff"/>
<rect x="798.4" y="626.3" width="4.7" height="85.7" fill="#54ffff"/>
<rect x="807.3" y="633.7" width="4.7" height="78.3" fill="#54ffff"/>
<rect x="816.1" y="647" width="4.7" height="65" fill="#ff3232"/>
<rect x="824.9" y="639.7" width="4.7" height="72.3" fill="#54ffff"/>
<rect x="833.8" y="624.7" width="4.7" height="87.3" fill="#54ffff"/>
<rect x="842.6" y="651.7" width="4.7" height="60.3" fill="#54ffff"/>
<rect x="851.4" y="648.7" width="4.7" height="63.3" fill="#54ffff"/>
<rect x="860.3" y="644.2" width="4.7" height="67.8" fill="#ff3232"/>
<rect x="869.1" y="643.3" width="4.7" height="68.7" fill="#54ffff"/>
<rect x="877.9" y="627.8" width="4.7" height="84.2" fill="#ff3232"/>
<rect x="886.8" y="641.2" width="4.7" height="70.8" fill="#ff3232"/>
<rect x="895.6" y="641.7" width="4.7" height="70.3" fill="#ff3232"/>
<rect x="904.4" y="645.8" width="4.7" height="66.2" fill="#54ffff"/>
<rect x="913.2" y="642" width="4.7" height="70" fill="#54ffff"/>
<rect x="922.1" y="644.2" width="4.7" height="67.8" fill="#ff3232"/>
<rect x="930.9" y="647" width="4.7" height="65" fill="#54ffff"/>
<rect x="939.7" y="647" width="4.7" height="65" fill="#ff3232"/>
<rect x="948.6" y="647" width="4.7" height="65" fill="#ff3232"/>
<rect x="957.4" y="646.7" width="4.7" height="65.3" fill="#54ffff"/>
<rect x="966.2" y="648.3" width="4.7" height="63.7" fill="#ff3232"/>
<rect x="975.1" y="653.3" width="4.7" height="58.7" fill="#54ffff"/>
<rect x="983.9" y="638.3" width="4.7" height="73.7" fill="#ff3232"/>
<rect x="992.7" y="644.2" width="4.7" height="67.8" fill="#54ffff"/>
<rect x="1001.6" y="650.3" width="4.7" height="61.7" fill="#54ffff"/>
<rect x="1010.4" y="648" width="4.7" height="64" fill="#54ffff"/>
<rect x="1019.2" y="653.3" width="4.7" height="58.7" fill="#54ffff"/>
<rect x="1028.1" y="650" width="4.7" height="62" fill="#ff3232"/>
<rect x="1036.9" y="638.3" width="4.7" height="73.7" fill="#ff3232"/>
<rect x="1045.7" y="638.3" width="4.7" height="73.7" fill="#54ffff"/>
<rect x="1054.6" y="641.3" width="4.7" height="70.7" fill="#54ffff"/>
<rect x="1063.4" y="635.3" width="4.7" height="76.7" fill="#54ffff"/>
<rect x="1072.2" y="643" width="4.7" height="69" fill="#54ffff"/>
<rect x="1081.1" y="650.3" width="4.7" height="61.7" fill="#ff3232"/>
<rect x="1089.9" y="651.7" width="4.7" height="60.3" fill="#54ffff"/>
<rect x="1098.7" y="641.3" width="4.7" height="70.7" fill="#54ffff"/>
<rect x="1107.6" y="638.3" width="4.7" height="73.7" fill="#54ffff"/>
<rect x="1116.4" y="648.7" width="4.7" height="63.3" fill="#54ffff"/>
<rect x="1125.2" y="645" width="4.7" height="67" fill="#ff3232"/>
<rect x="1134.1" y="629.2" width="4.7" height="82.8" fill="#ff3232"/>
<rect x="1142.9" y="641.7" width="4.7" height="70.3" fill="#54ffff"/>
<rect x="1151.7" y="635.3" width="4.7" height="76.7" fill="#ff3232"/>
<rect x="1160.6" y="655" width="4.7" height="57" fill="#ff3232"/>
<rect x="1169.4" y="638.3" width="4.7" height="73.7" fill="#ff3232"/>
<rect x="1178.2" y="630.8" width="4.7" height="81.2" fill="#54ffff"/>
<rect x="1187.1" y="647" width="4.7" height="65" fill="#ff3232"/>
<rect x="1195.9" y="648.7" width="4.7" height="63.3" fill="#54ffff"/>
<rect x="1204.7" y="658" width="4.7" height="54" fill="#54ffff"/>
<rect x="1213.6" y="655" width="4.7" height="57" fill="#54ffff"/>
<rect x="1222.4" y="621.7" width="4.7" height="90.3" fill="#54ffff"/>
<rect x="1231.2" y="629.2" width="4.7" height="82.8" fill="#ff3232"/>
<rect x="1240.1" y="647" width="4.7" height="65" fill="#54ffff"/>
<rect x="1248.9" y="641.7" width="4.7" height="70.3" fill="#54ffff"/>
<rect x="1257.7" y="633.7" width="4.7" height="78.3" fill="#ff3232"/>
<rect x="1266.6" y="636.7" width="4.7" height="75.3" fill="#54ffff"/>
<rect x="1275.4" y="629.2" width="4.7" height="82.8" fill="#ff3232"/>
<rect x="1284.2" y="600.5" width="4.7" height="111.5" fill="#ff3232"/>
<rect x="1293.1" y="618.7" width="4.7" height="93.3" fill="#54ffff"/>
<rect x="1301.9" y="635" width="4.7" height="77" fill="#54ffff"/>
<rect x="1310.7" y="633.7" width="4.7" height="78.3" fill="#ff3232"/>
<rect x="1319.6" y="641.2" width="4.7" height="70.8" fill="#54ffff"/>
<rect x="1328.4" y="650.3" width="4.7" height="61.7" fill="#54ffff"/>
<rect x="1337.2" y="638.3" width="4.7" height="73.7" fill="#ff3232"/>
<rect x="1346.1" y="636.7" width="4.7" height="75.3" fill="#ff3232"/>
<rect x="1354.9" y="612.8" width="4.7" height="99.2" fill="#54ffff"/>
<rect x="1363.7" y="597.8" width="4.7" height="114.2" fill="#ff3232"/>
<rect x="1372.6" y="599.2" width="4.7" height="112.8" fill="#ff3232"/>
<rect x="1381.4" y="629.2" width="4.7" height="82.8" fill="#ff3232"/>
<rect x="1390.2" y="614.2" width="4.7" height="97.8" fill="#54ffff"/>
<rect x="1399.1" y="627.8" width="4.7" height="84.2" fill="#54ffff"/>
<rect x="1407.9" y="639.7" width="4.7" height="72.3" fill="#ff3232"/>
<rect x="1416.7" y="608.3" width="4.7" height="103.7" fill="#ff3232"/>
<rect x="1425.6" y="567.5" width="4.7" height="144.5" fill="#ff3232"/>
<rect x="1434.4" y="588.7" width="4.7" height="123.3" fill="#54ffff"/>
<polyline fill="none" stroke="#e2e200" stroke-width="1.55" stroke-linejoin="round" stroke-linecap="round" points="5,625.3 10,624.2 25,624.2 30,622.5 38.3,620.8 50,620.8 59.2,624.2 68.3,625.8 80,622.5 86.7,619.2 94.2,615.8 103.3,611.7 111.7,608.8 123.3,610.3 130,608.3 140,610 148.3,608.7 155,611.7 164.2,613.3 173.3,615 183.3,616.7 191.7,618.3 209.2,619.2 221.7,619.7 238.3,619.3 240,619.2 256.7,619.2 265,621.3 273.3,622.5 280,624.7 290,626.7 300,628.8 315.8,628.8 333.3,629.7 351.7,630 360,633.3 370,633.7 378.3,631.3 395,631.7 403.3,633.3 430,633 440,630.8 458.3,630 463.3,632.5 473.3,634.7 480,636.3 486.7,636.3 496.7,638.3 505,640 515,641.3 526.7,645 535,646.3 546.7,646.3 553.3,644.2 561.7,643 573.3,643 580,642 588.3,643.7 596.7,640.8 606.7,640 616.7,638.8 625,635.3 635,633.3 651.7,633 659.2,635 668.3,631.7 677.5,631.3 686.7,631.7 695,629.7 703.3,625.8 713.3,625.3 718.3,625.7 720,625.8 731.7,625.3 736.7,623.7 758.3,623.7 763.3,622 775,620.8 780,619.2 790,621.3 810,622.5 818.3,625.3 826.7,627 840,627 851.7,631.7 861.7,635 870,637.5 880,639.2 890,641.3 898.3,642.5 918.3,642 925,643.3 958.3,643.3 960,643.3 971.7,645 976.7,646.7 1006.7,646.7 1011.7,647.8 1026.7,647.5 1040,647.5 1046.7,646.3 1060,645.8 1066.7,644.7 1101.7,644.7 1110,643.3 1126.7,643.3 1135,642 1155,642 1161.7,643.3 1171.7,642 1180,640.8 1193.3,640.8 1198.3,642 1200,642 1216.7,643.3 1233.3,643 1246.7,641.7 1271.7,642 1277.5,640 1286.7,635.8 1295.8,631.7 1305,629.7 1313.3,631.7 1321.7,633 1350,633 1356.7,630 1366.7,627 1378.3,627 1383.3,628.7 1391.7,627 1400,625.3 1410,625.3 1418.3,621.7 1427.5,612.5 1435,608.7" />
<polyline fill="none" stroke="#dcdcdc" stroke-width="1.5" stroke-linejoin="round" stroke-linecap="round" points="5,618.7 10,625 16.7,630.8 24.2,632.5 32.5,631.3 41.7,631.3 50.8,621.7 59.2,620 68.3,616.3 76.7,614.7 85,610 94.2,610 103.3,603 115,603 123.3,605 131.7,607.5 140,610.8 148.3,616.7 155,619.2 164.2,622.5 173.3,622.5 183.3,622.5 191.7,620.8 200,618.3 209.2,615 221.7,615 230,617 236.7,619.2 240,620.8 246.7,621.7 253.3,625.8 261.7,627.5 271.7,627.5 280,631.3 290,631.3 300,631.3 306.7,630 315.8,630 323.3,628 333.3,627.5 343.3,629.2 351.7,631.7 360,636.7 368.3,639.2 378.3,637.5 386.7,635 395,631.3 403.3,630 411.7,627 420,628.7 430,630.3 440,630.8 453.3,631.7 463.3,636.7 473.3,639.2 480,640.8 490,643.3 503.3,643.7 508.3,645 518.3,646.7 528.3,648.3 535,649.5 544.2,649.2 553.3,643.3 561.7,640.8 570,638.3 576.7,635.8 595,635.8 603.3,638.3 615,640.8 623.3,636.7 632.5,632.5 640.8,628.3 646.7,627 668.3,627 677.5,630 686.7,633 695,631.7 703.3,624.7 711.7,622.5 718.3,620 720,619.7 728.3,618 736.7,615.8 741.7,618.3 748.3,622.5 757.5,627 766.7,627 773.3,624.2 782.5,622.5 790,618 798.3,616.3 808.3,618.3 818.3,626.7 826.7,630.8 835,633.3 843.3,639.2 851.7,643.3 858.3,641.7 866.7,641.7 870,643.3 881.7,643.3 886.7,641.3 916.7,641.3 925,644.2 933.3,645.3 940,646.7 958.3,646.7 960,646.3 968.3,648 980,647.5 986.7,645.8 1006.7,645.8 1011.7,647.5 1023.3,647.5 1030,649.7 1038.3,647.5 1048.3,646.3 1056.7,644.7 1066.7,640.8 1076.7,640.8 1086.7,643.3 1096.7,644.7 1110,644.7 1118.3,646.7 1126.7,645 1136.7,640.8 1146.7,640.8 1154.2,638.7 1161.7,640.8 1171.7,641.3 1180,640.8 1190,641.7 1198.3,644.7 1200,645 1208.3,645.8 1216.7,648 1225,646.3 1233.3,643.7 1243.3,642.5 1251.7,639.2 1259.7,635.8 1268.3,638.3 1276.7,638.3 1286.7,630.8 1295.8,624.2 1305,625.3 1313.3,623.7 1321.7,627.5 1330,636.7 1339.2,640 1348.3,640.3 1356.7,637.5 1366.7,627.5 1375,618.3 1384.2,615.8 1392.5,612.5 1400.8,615.8 1410,622.5 1418.3,623.3 1427.5,611.7 1435,608.3" />
<line x1="3.2" y1="793.5" x2="1466" y2="793.5" stroke="#cc0a0a" stroke-width="1.7" stroke-dasharray="1.5 1.57"/>
<line x1="5.8" y1="769" x2="5.8" y2="794" stroke="#e23036" stroke-width="1.8"/>
<rect x="3.5" y="792.6" width="4.6" height="1.8" fill="#e8282e"/>
<line x1="14.6" y1="774.8" x2="14.6" y2="794" stroke="#e23036" stroke-width="1.8"/>
<rect x="12.3" y="792.6" width="4.6" height="1.8" fill="#e8282e"/>
<line x1="23.5" y1="774.8" x2="23.5" y2="794" stroke="#e23036" stroke-width="1.8"/>
<rect x="21.2" y="792.6" width="4.6" height="1.8" fill="#e8282e"/>
<line x1="32.3" y1="784" x2="32.3" y2="794" stroke="#e23036" stroke-width="1.8"/>
<rect x="30" y="792.6" width="4.6" height="1.8" fill="#e8282e"/>
<line x1="41.1" y1="793" x2="41.1" y2="794" stroke="#e23036" stroke-width="1.8"/>
<rect x="38.8" y="792.6" width="4.6" height="1.8" fill="#e8282e"/>
<line x1="50" y1="794" x2="50" y2="814.8" stroke="#46d8d8" stroke-width="1.8"/>
<line x1="58.8" y1="794" x2="58.8" y2="817.7" stroke="#46d8d8" stroke-width="1.8"/>
<line x1="67.6" y1="794" x2="67.6" y2="809" stroke="#46d8d8" stroke-width="1.8"/>
<line x1="76.5" y1="794" x2="76.5" y2="804.3" stroke="#46d8d8" stroke-width="1.8"/>
<line x1="85.3" y1="794" x2="85.3" y2="800.2" stroke="#46d8d8" stroke-width="1.8"/>
<line x1="94.1" y1="788.2" x2="94.1" y2="794" stroke="#e23036" stroke-width="1.8"/>
<rect x="91.8" y="792.6" width="4.6" height="1.8" fill="#e8282e"/>
<line x1="103" y1="781" x2="103" y2="794" stroke="#e23036" stroke-width="1.8"/>
<rect x="100.7" y="792.6" width="4.6" height="1.8" fill="#e8282e"/>
<line x1="111.8" y1="782.3" x2="111.8" y2="794" stroke="#e23036" stroke-width="1.8"/>
<rect x="109.5" y="792.6" width="4.6" height="1.8" fill="#e8282e"/>
<line x1="120.6" y1="791.5" x2="120.6" y2="794" stroke="#e23036" stroke-width="1.8"/>
<rect x="118.3" y="792.6" width="4.6" height="1.8" fill="#e8282e"/>
<line x1="129.5" y1="794" x2="129.5" y2="795.3" stroke="#46d8d8" stroke-width="1.8"/>
<line x1="138.3" y1="794" x2="138.3" y2="800.2" stroke="#46d8d8" stroke-width="1.8"/>
<line x1="147.1" y1="794" x2="147.1" y2="803.2" stroke="#46d8d8" stroke-width="1.8"/>
<line x1="156" y1="794" x2="156" y2="807.3" stroke="#46d8d8" stroke-width="1.8"/>
<line x1="164.8" y1="794" x2="164.8" y2="809" stroke="#46d8d8" stroke-width="1.8"/>
<line x1="173.6" y1="794" x2="173.6" y2="807.3" stroke="#46d8d8" stroke-width="1.8"/>
<line x1="182.5" y1="794" x2="182.5" y2="816.5" stroke="#46d8d8" stroke-width="1.8"/>
<line x1="191.3" y1="794" x2="191.3" y2="813.2" stroke="#46d8d8" stroke-width="1.8"/>
<line x1="200.1" y1="794" x2="200.1" y2="812" stroke="#46d8d8" stroke-width="1.8"/>
<line x1="209" y1="794" x2="209" y2="816.5" stroke="#46d8d8" stroke-width="1.8"/>
<line x1="217.8" y1="794" x2="217.8" y2="824" stroke="#46d8d8" stroke-width="1.8"/>
<line x1="226.6" y1="794" x2="226.6" y2="817.7" stroke="#46d8d8" stroke-width="1.8"/>
<line x1="235.5" y1="794" x2="235.5" y2="810.7" stroke="#46d8d8" stroke-width="1.8"/>
<line x1="244.3" y1="794" x2="244.3" y2="810.7" stroke="#46d8d8" stroke-width="1.8"/>
<line x1="253.1" y1="794" x2="253.1" y2="806" stroke="#46d8d8" stroke-width="1.8"/>
<line x1="262" y1="794" x2="262" y2="803.2" stroke="#46d8d8" stroke-width="1.8"/>
<line x1="270.8" y1="794" x2="270.8" y2="797" stroke="#46d8d8" stroke-width="1.8"/>
<line x1="279.6" y1="794" x2="279.6" y2="794" stroke="#46d8d8" stroke-width="1.8"/>
<line x1="288.5" y1="787" x2="288.5" y2="794" stroke="#e23036" stroke-width="1.8"/>
<rect x="286.2" y="792.6" width="4.6" height="1.8" fill="#e8282e"/>
<line x1="297.3" y1="782.7" x2="297.3" y2="794" stroke="#e23036" stroke-width="1.8"/>
<rect x="295" y="792.6" width="4.6" height="1.8" fill="#e8282e"/>
<line x1="306.1" y1="779.3" x2="306.1" y2="794" stroke="#e23036" stroke-width="1.8"/>
<rect x="303.8" y="792.6" width="4.6" height="1.8" fill="#e8282e"/>
<line x1="315" y1="776.5" x2="315" y2="794" stroke="#e23036" stroke-width="1.8"/>
<rect x="312.7" y="792.6" width="4.6" height="1.8" fill="#e8282e"/>
<line x1="323.8" y1="781" x2="323.8" y2="794" stroke="#e23036" stroke-width="1.8"/>
<rect x="321.5" y="792.6" width="4.6" height="1.8" fill="#e8282e"/>
<line x1="332.6" y1="785.3" x2="332.6" y2="794" stroke="#e23036" stroke-width="1.8"/>
<rect x="330.3" y="792.6" width="4.6" height="1.8" fill="#e8282e"/>
<line x1="341.5" y1="784" x2="341.5" y2="794" stroke="#e23036" stroke-width="1.8"/>
<rect x="339.2" y="792.6" width="4.6" height="1.8" fill="#e8282e"/>
<line x1="350.3" y1="785.3" x2="350.3" y2="794" stroke="#e23036" stroke-width="1.8"/>
<rect x="348" y="792.6" width="4.6" height="1.8" fill="#e8282e"/>
<line x1="359.1" y1="790.3" x2="359.1" y2="794" stroke="#e23036" stroke-width="1.8"/>
<rect x="356.8" y="792.6" width="4.6" height="1.8" fill="#e8282e"/>
<line x1="368" y1="792.8" x2="368" y2="794" stroke="#e23036" stroke-width="1.8"/>
<rect x="365.7" y="792.6" width="4.6" height="1.8" fill="#e8282e"/>
<line x1="376.8" y1="789.8" x2="376.8" y2="794" stroke="#e23036" stroke-width="1.8"/>
<rect x="374.5" y="792.6" width="4.6" height="1.8" fill="#e8282e"/>
<line x1="385.6" y1="785.3" x2="385.6" y2="794" stroke="#e23036" stroke-width="1.8"/>
<rect x="383.3" y="792.6" width="4.6" height="1.8" fill="#e8282e"/>
<line x1="394.5" y1="790.3" x2="394.5" y2="794" stroke="#e23036" stroke-width="1.8"/>
<rect x="392.2" y="792.6" width="4.6" height="1.8" fill="#e8282e"/>
<line x1="412.1" y1="794" x2="412.1" y2="800.2" stroke="#46d8d8" stroke-width="1.8"/>
<line x1="421" y1="794" x2="421" y2="807.3" stroke="#46d8d8" stroke-width="1.8"/>
<line x1="429.8" y1="794" x2="429.8" y2="814.8" stroke="#46d8d8" stroke-width="1.8"/>
<line x1="438.6" y1="794" x2="438.6" y2="826.8" stroke="#46d8d8" stroke-width="1.8"/>
<line x1="447.5" y1="794" x2="447.5" y2="829.8" stroke="#46d8d8" stroke-width="1.8"/>
<line x1="456.3" y1="794" x2="456.3" y2="835.7" stroke="#46d8d8" stroke-width="1.8"/>
<line x1="465.1" y1="794" x2="465.1" y2="837.3" stroke="#46d8d8" stroke-width="1.8"/>
<line x1="473.9" y1="794" x2="473.9" y2="828.2" stroke="#46d8d8" stroke-width="1.8"/>
<line x1="482.8" y1="794" x2="482.8" y2="821" stroke="#46d8d8" stroke-width="1.8"/>
<line x1="491.6" y1="794" x2="491.6" y2="818.2" stroke="#46d8d8" stroke-width="1.8"/>
<line x1="500.4" y1="794" x2="500.4" y2="816.5" stroke="#46d8d8" stroke-width="1.8"/>
<line x1="509.3" y1="794" x2="509.3" y2="817.8" stroke="#46d8d8" stroke-width="1.8"/>
<line x1="518.1" y1="794" x2="518.1" y2="812" stroke="#46d8d8" stroke-width="1.8"/>
<line x1="526.9" y1="794" x2="526.9" y2="812" stroke="#46d8d8" stroke-width="1.8"/>
<line x1="535.8" y1="794" x2="535.8" y2="813.2" stroke="#46d8d8" stroke-width="1.8"/>
<line x1="544.6" y1="794" x2="544.6" y2="816.5" stroke="#46d8d8" stroke-width="1.8"/>
<line x1="553.4" y1="794" x2="553.4" y2="834.5" stroke="#46d8d8" stroke-width="1.8"/>
<line x1="562.3" y1="794" x2="562.3" y2="839" stroke="#46d8d8" stroke-width="1.8"/>
<line x1="571.1" y1="794" x2="571.1" y2="846.5" stroke="#46d8d8" stroke-width="1.8"/>
<line x1="579.9" y1="794" x2="579.9" y2="842" stroke="#46d8d8" stroke-width="1.8"/>
<line x1="588.8" y1="794" x2="588.8" y2="837.3" stroke="#46d8d8" stroke-width="1.8"/>
<line x1="597.6" y1="794" x2="597.6" y2="825.3" stroke="#46d8d8" stroke-width="1.8"/>
<line x1="606.4" y1="794" x2="606.4" y2="819.3" stroke="#46d8d8" stroke-width="1.8"/>
<line x1="615.3" y1="794" x2="615.3" y2="812" stroke="#46d8d8" stroke-width="1.8"/>
<line x1="624.1" y1="794" x2="624.1" y2="794" stroke="#46d8d8" stroke-width="1.8"/>
<line x1="632.9" y1="787" x2="632.9" y2="794" stroke="#e23036" stroke-width="1.8"/>
<rect x="630.6" y="792.6" width="4.6" height="1.8" fill="#e8282e"/>
<line x1="641.8" y1="776.5" x2="641.8" y2="794" stroke="#e23036" stroke-width="1.8"/>
<rect x="639.5" y="792.6" width="4.6" height="1.8" fill="#e8282e"/>
<line x1="650.6" y1="776.5" x2="650.6" y2="794" stroke="#e23036" stroke-width="1.8"/>
<rect x="648.3" y="792.6" width="4.6" height="1.8" fill="#e8282e"/>
<line x1="659.4" y1="782.3" x2="659.4" y2="794" stroke="#e23036" stroke-width="1.8"/>
<rect x="657.1" y="792.6" width="4.6" height="1.8" fill="#e8282e"/>
<line x1="668.3" y1="782.3" x2="668.3" y2="794" stroke="#e23036" stroke-width="1.8"/>
<rect x="666" y="792.6" width="4.6" height="1.8" fill="#e8282e"/>
<line x1="677.1" y1="774.8" x2="677.1" y2="794" stroke="#e23036" stroke-width="1.8"/>
<rect x="674.8" y="792.6" width="4.6" height="1.8" fill="#e8282e"/>
<line x1="685.9" y1="769" x2="685.9" y2="794" stroke="#e23036" stroke-width="1.8"/>
<rect x="683.6" y="792.6" width="4.6" height="1.8" fill="#e8282e"/>
<line x1="694.8" y1="770.3" x2="694.8" y2="794" stroke="#e23036" stroke-width="1.8"/>
<rect x="692.5" y="792.6" width="4.6" height="1.8" fill="#e8282e"/>
<line x1="703.6" y1="761.2" x2="703.6" y2="794" stroke="#e23036" stroke-width="1.8"/>
<rect x="701.3" y="792.6" width="4.6" height="1.8" fill="#e8282e"/>
<line x1="712.4" y1="755.3" x2="712.4" y2="794" stroke="#e23036" stroke-width="1.8"/>
<rect x="710.1" y="792.6" width="4.6" height="1.8" fill="#e8282e"/>
<line x1="721.3" y1="754" x2="721.3" y2="794" stroke="#e23036" stroke-width="1.8"/>
<rect x="719" y="792.6" width="4.6" height="1.8" fill="#e8282e"/>
<line x1="730.1" y1="752.3" x2="730.1" y2="794" stroke="#e23036" stroke-width="1.8"/>
<rect x="727.8" y="792.6" width="4.6" height="1.8" fill="#e8282e"/>
<line x1="738.9" y1="755.3" x2="738.9" y2="794" stroke="#e23036" stroke-width="1.8"/>
<rect x="736.6" y="792.6" width="4.6" height="1.8" fill="#e8282e"/>
<line x1="747.8" y1="761.2" x2="747.8" y2="794" stroke="#e23036" stroke-width="1.8"/>
<rect x="745.5" y="792.6" width="4.6" height="1.8" fill="#e8282e"/>
<line x1="756.6" y1="762.8" x2="756.6" y2="794" stroke="#e23036" stroke-width="1.8"/>
<rect x="754.3" y="792.6" width="4.6" height="1.8" fill="#e8282e"/>
<line x1="765.4" y1="762.8" x2="765.4" y2="794" stroke="#e23036" stroke-width="1.8"/>
<rect x="763.1" y="792.6" width="4.6" height="1.8" fill="#e8282e"/>
<line x1="774.3" y1="762.8" x2="774.3" y2="794" stroke="#e23036" stroke-width="1.8"/>
<rect x="772" y="792.6" width="4.6" height="1.8" fill="#e8282e"/>
<line x1="783.1" y1="762.8" x2="783.1" y2="794" stroke="#e23036" stroke-width="1.8"/>
<rect x="780.8" y="792.6" width="4.6" height="1.8" fill="#e8282e"/>
<line x1="791.9" y1="769" x2="791.9" y2="794" stroke="#e23036" stroke-width="1.8"/>
<rect x="789.6" y="792.6" width="4.6" height="1.8" fill="#e8282e"/>
<line x1="800.8" y1="776.5" x2="800.8" y2="794" stroke="#e23036" stroke-width="1.8"/>
<rect x="798.5" y="792.6" width="4.6" height="1.8" fill="#e8282e"/>
<line x1="809.6" y1="787" x2="809.6" y2="794" stroke="#e23036" stroke-width="1.8"/>
<rect x="807.3" y="792.6" width="4.6" height="1.8" fill="#e8282e"/>
<line x1="827.3" y1="794" x2="827.3" y2="798.7" stroke="#46d8d8" stroke-width="1.8"/>
<line x1="836.1" y1="794" x2="836.1" y2="809" stroke="#46d8d8" stroke-width="1.8"/>
<line x1="844.9" y1="794" x2="844.9" y2="817.8" stroke="#46d8d8" stroke-width="1.8"/>
<line x1="853.8" y1="794" x2="853.8" y2="829.8" stroke="#46d8d8" stroke-width="1.8"/>
<line x1="862.6" y1="794" x2="862.6" y2="828.2" stroke="#46d8d8" stroke-width="1.8"/>
<line x1="871.4" y1="794" x2="871.4" y2="829.8" stroke="#46d8d8" stroke-width="1.8"/>
<line x1="880.3" y1="794" x2="880.3" y2="819.3" stroke="#46d8d8" stroke-width="1.8"/>
<line x1="889.1" y1="794" x2="889.1" y2="809" stroke="#46d8d8" stroke-width="1.8"/>
<line x1="897.9" y1="794" x2="897.9" y2="795.3" stroke="#46d8d8" stroke-width="1.8"/>
<line x1="906.8" y1="791.5" x2="906.8" y2="794" stroke="#e23036" stroke-width="1.8"/>
<rect x="904.5" y="792.6" width="4.6" height="1.8" fill="#e8282e"/>
<line x1="924.4" y1="794" x2="924.4" y2="795.3" stroke="#46d8d8" stroke-width="1.8"/>
<line x1="933.3" y1="794" x2="933.3" y2="801.5" stroke="#46d8d8" stroke-width="1.8"/>
<line x1="942.1" y1="794" x2="942.1" y2="804.3" stroke="#46d8d8" stroke-width="1.8"/>
<line x1="950.9" y1="794" x2="950.9" y2="800.2" stroke="#46d8d8" stroke-width="1.8"/>
<line x1="959.8" y1="794" x2="959.8" y2="800.2" stroke="#46d8d8" stroke-width="1.8"/>
<line x1="968.6" y1="794" x2="968.6" y2="795.3" stroke="#46d8d8" stroke-width="1.8"/>
<line x1="986.3" y1="784" x2="986.3" y2="794" stroke="#e23036" stroke-width="1.8"/>
<rect x="984" y="792.6" width="4.6" height="1.8" fill="#e8282e"/>
<line x1="995.1" y1="776.5" x2="995.1" y2="794" stroke="#e23036" stroke-width="1.8"/>
<rect x="992.8" y="792.6" width="4.6" height="1.8" fill="#e8282e"/>
<line x1="1003.9" y1="774.8" x2="1003.9" y2="794" stroke="#e23036" stroke-width="1.8"/>
<rect x="1001.6" y="792.6" width="4.6" height="1.8" fill="#e8282e"/>
<line x1="1012.8" y1="777.8" x2="1012.8" y2="794" stroke="#e23036" stroke-width="1.8"/>
<rect x="1010.5" y="792.6" width="4.6" height="1.8" fill="#e8282e"/>
<line x1="1021.6" y1="784" x2="1021.6" y2="794" stroke="#e23036" stroke-width="1.8"/>
<rect x="1019.3" y="792.6" width="4.6" height="1.8" fill="#e8282e"/>
<line x1="1030.4" y1="785.3" x2="1030.4" y2="794" stroke="#e23036" stroke-width="1.8"/>
<rect x="1028.1" y="792.6" width="4.6" height="1.8" fill="#e8282e"/>
<line x1="1039.3" y1="785.3" x2="1039.3" y2="794" stroke="#e23036" stroke-width="1.8"/>
<rect x="1037" y="792.6" width="4.6" height="1.8" fill="#e8282e"/>
<line x1="1048.1" y1="788.5" x2="1048.1" y2="794" stroke="#e23036" stroke-width="1.8"/>
<rect x="1045.8" y="792.6" width="4.6" height="1.8" fill="#e8282e"/>
<line x1="1056.9" y1="791.5" x2="1056.9" y2="794" stroke="#e23036" stroke-width="1.8"/>
<rect x="1054.6" y="792.6" width="4.6" height="1.8" fill="#e8282e"/>
<line x1="1074.6" y1="794" x2="1074.6" y2="797" stroke="#46d8d8" stroke-width="1.8"/>
<line x1="1083.4" y1="794" x2="1083.4" y2="798.7" stroke="#46d8d8" stroke-width="1.8"/>
<line x1="1092.3" y1="794" x2="1092.3" y2="801.5" stroke="#46d8d8" stroke-width="1.8"/>
<line x1="1101.1" y1="794" x2="1101.1" y2="800.2" stroke="#46d8d8" stroke-width="1.8"/>
<line x1="1109.9" y1="794" x2="1109.9" y2="803.2" stroke="#46d8d8" stroke-width="1.8"/>
<line x1="1118.8" y1="794" x2="1118.8" y2="806" stroke="#46d8d8" stroke-width="1.8"/>
<line x1="1127.6" y1="794" x2="1127.6" y2="801.5" stroke="#46d8d8" stroke-width="1.8"/>
<line x1="1136.4" y1="794" x2="1136.4" y2="795.3" stroke="#46d8d8" stroke-width="1.8"/>
<line x1="1145.3" y1="793.2" x2="1145.3" y2="794" stroke="#e23036" stroke-width="1.8"/>
<rect x="1143" y="792.6" width="4.6" height="1.8" fill="#e8282e"/>
<line x1="1154.1" y1="785.3" x2="1154.1" y2="794" stroke="#e23036" stroke-width="1.8"/>
<rect x="1151.8" y="792.6" width="4.6" height="1.8" fill="#e8282e"/>
<line x1="1162.9" y1="781" x2="1162.9" y2="794" stroke="#e23036" stroke-width="1.8"/>
<rect x="1160.6" y="792.6" width="4.6" height="1.8" fill="#e8282e"/>
<line x1="1171.8" y1="774.8" x2="1171.8" y2="794" stroke="#e23036" stroke-width="1.8"/>
<rect x="1169.5" y="792.6" width="4.6" height="1.8" fill="#e8282e"/>
<line x1="1180.6" y1="776.5" x2="1180.6" y2="794" stroke="#e23036" stroke-width="1.8"/>
<rect x="1178.3" y="792.6" width="4.6" height="1.8" fill="#e8282e"/>
<line x1="1189.4" y1="774.8" x2="1189.4" y2="794" stroke="#e23036" stroke-width="1.8"/>
<rect x="1187.1" y="792.6" width="4.6" height="1.8" fill="#e8282e"/>
<line x1="1198.3" y1="784" x2="1198.3" y2="794" stroke="#e23036" stroke-width="1.8"/>
<rect x="1196" y="792.6" width="4.6" height="1.8" fill="#e8282e"/>
<line x1="1207.1" y1="791.5" x2="1207.1" y2="794" stroke="#e23036" stroke-width="1.8"/>
<rect x="1204.8" y="792.6" width="4.6" height="1.8" fill="#e8282e"/>
<line x1="1224.8" y1="794" x2="1224.8" y2="810.7" stroke="#46d8d8" stroke-width="1.8"/>
<line x1="1233.6" y1="794" x2="1233.6" y2="817.8" stroke="#46d8d8" stroke-width="1.8"/>
<line x1="1242.4" y1="794" x2="1242.4" y2="824" stroke="#46d8d8" stroke-width="1.8"/>
<line x1="1251.3" y1="794" x2="1251.3" y2="831.5" stroke="#46d8d8" stroke-width="1.8"/>
<line x1="1260.1" y1="794" x2="1260.1" y2="831.5" stroke="#46d8d8" stroke-width="1.8"/>
<line x1="1268.9" y1="794" x2="1268.9" y2="831.5" stroke="#46d8d8" stroke-width="1.8"/>
<line x1="1277.8" y1="794" x2="1277.8" y2="821" stroke="#46d8d8" stroke-width="1.8"/>
<line x1="1286.6" y1="794" x2="1286.6" y2="800.2" stroke="#46d8d8" stroke-width="1.8"/>
<line x1="1295.4" y1="791.5" x2="1295.4" y2="794" stroke="#e23036" stroke-width="1.8"/>
<rect x="1293.1" y="792.6" width="4.6" height="1.8" fill="#e8282e"/>
<line x1="1304.3" y1="785.3" x2="1304.3" y2="794" stroke="#e23036" stroke-width="1.8"/>
<rect x="1302" y="792.6" width="4.6" height="1.8" fill="#e8282e"/>
<line x1="1313.1" y1="782.3" x2="1313.1" y2="794" stroke="#e23036" stroke-width="1.8"/>
<rect x="1310.8" y="792.6" width="4.6" height="1.8" fill="#e8282e"/>
<line x1="1321.9" y1="782.3" x2="1321.9" y2="794" stroke="#e23036" stroke-width="1.8"/>
<rect x="1319.6" y="792.6" width="4.6" height="1.8" fill="#e8282e"/>
<line x1="1330.8" y1="784" x2="1330.8" y2="794" stroke="#e23036" stroke-width="1.8"/>
<rect x="1328.5" y="792.6" width="4.6" height="1.8" fill="#e8282e"/>
<line x1="1339.6" y1="782.3" x2="1339.6" y2="794" stroke="#e23036" stroke-width="1.8"/>
<rect x="1337.3" y="792.6" width="4.6" height="1.8" fill="#e8282e"/>
<line x1="1348.4" y1="777.8" x2="1348.4" y2="794" stroke="#e23036" stroke-width="1.8"/>
<rect x="1346.1" y="792.6" width="4.6" height="1.8" fill="#e8282e"/>
<line x1="1357.2" y1="773.5" x2="1357.2" y2="794" stroke="#e23036" stroke-width="1.8"/>
<rect x="1354.9" y="792.6" width="4.6" height="1.8" fill="#e8282e"/>
<line x1="1366.1" y1="759.8" x2="1366.1" y2="794" stroke="#e23036" stroke-width="1.8"/>
<rect x="1363.8" y="792.6" width="4.6" height="1.8" fill="#e8282e"/>
<line x1="1374.9" y1="752.3" x2="1374.9" y2="794" stroke="#e23036" stroke-width="1.8"/>
<rect x="1372.6" y="792.6" width="4.6" height="1.8" fill="#e8282e"/>
<line x1="1383.7" y1="748.2" x2="1383.7" y2="794" stroke="#e23036" stroke-width="1.8"/>
<rect x="1381.4" y="792.6" width="4.6" height="1.8" fill="#e8282e"/>
<line x1="1392.6" y1="748.2" x2="1392.6" y2="794" stroke="#e23036" stroke-width="1.8"/>
<rect x="1390.3" y="792.6" width="4.6" height="1.8" fill="#e8282e"/>
<line x1="1401.4" y1="754" x2="1401.4" y2="794" stroke="#e23036" stroke-width="1.8"/>
<rect x="1399.1" y="792.6" width="4.6" height="1.8" fill="#e8282e"/>
<line x1="1410.2" y1="758.5" x2="1410.2" y2="794" stroke="#e23036" stroke-width="1.8"/>
<rect x="1407.9" y="792.6" width="4.6" height="1.8" fill="#e8282e"/>
<line x1="1419.1" y1="755.3" x2="1419.1" y2="794" stroke="#e23036" stroke-width="1.8"/>
<rect x="1416.8" y="792.6" width="4.6" height="1.8" fill="#e8282e"/>
<line x1="1427.9" y1="751" x2="1427.9" y2="794" stroke="#e23036" stroke-width="1.8"/>
<rect x="1425.6" y="792.6" width="4.6" height="1.8" fill="#e8282e"/>
<line x1="1436.7" y1="752.3" x2="1436.7" y2="794" stroke="#e23036" stroke-width="1.8"/>
<rect x="1434.4" y="792.6" width="4.6" height="1.8" fill="#e8282e"/>
<polyline fill="none" stroke="#e2e200" stroke-width="1.55" stroke-linejoin="round" stroke-linecap="round" points="5,758.2 15,756.5 23.3,753.2 31.7,751 41.7,751 50,754.3 58.3,757.3 68.3,760.7 75,762.3 86.7,762 98.3,761 108.3,759 121.7,759 133.3,759.3 143.3,760.7 160,764 173.3,768.7 186.7,772.7 210,778.2 221.7,784 233.3,789 238.3,790 240,789.3 250,792 261.7,793.2 270,795.3 280,795.3 288.3,793.2 298.3,792 306.7,790.7 315,788.2 326.7,786.5 336.7,784 353.3,784 356.7,782.7 378.3,782.7 383.3,781.5 411.7,781.5 423.3,784 431.7,786 440,789.8 448.3,795.7 456.7,799.8 465,806 473.3,810.7 478.3,813.7 480,814.3 490,818.2 500,822 513.3,827 526.7,829.3 538.3,833.2 546.7,836.5 555,842.3 566.7,850.7 576.7,857.3 586.7,863.7 600,870.7 613.3,875.7 625,876 635,874.3 643.3,872.3 655,868.2 666.7,867 676.7,865.7 691.7,860.7 703.3,854 713.3,849 718.3,846.5 720,846 731.7,838.2 743.3,832.3 753.3,829 766.7,822.7 781.7,815.7 800,810.3 813.3,809.8 828.3,810.7 845,815.7 861.7,824.8 873.3,832.3 886.7,835.3 896.7,836.5 903.3,835.3 920,835.7 936.7,839.3 953.3,840.3 958.3,841.5 960,841.5 976.7,841.5 988.3,841 1000,837.3 1010,834 1018.3,832.3 1031.7,832.3 1036.7,830.7 1051.7,830.7 1053.3,829.5 1068.3,829.5 1073.3,831 1086.7,831 1103.3,834.8 1120,837.3 1126.7,839 1136.7,839 1146.7,837.7 1158.3,836 1176.7,830.7 1193.3,826.5 1198.3,826.2 1200,826 1216.7,826.5 1230,830.7 1243.3,837.3 1256.7,844 1266.7,851.5 1275,854.8 1286.7,857 1298.3,855.7 1316.7,852 1333.3,849.8 1350,846.5 1366.7,840.7 1383.3,829 1403.3,816.5 1418.3,809 1435.3,800.7" />
<polyline fill="none" stroke="#dcdcdc" stroke-width="1.5" stroke-linejoin="round" stroke-linecap="round" points="5,746 16.7,746 23.3,744.5 31.7,747 40,750.3 43.3,754 50,765.7 60,771 66.7,768.2 80,768.2 86.7,765.7 93.3,758.2 101.7,754.3 108.3,752.7 115,753.2 123.3,757.7 131.7,760.7 141.7,764.3 153.3,770.7 163.3,774 173.3,776 182.8,783.2 191.7,784.3 201.7,787 210,792.3 218.3,799.8 230,799.8 235,797.7 240,800.7 245,801.5 261.7,799.8 270,796 280,796 288.3,789.8 298.3,785.3 306.7,783.7 314.2,779.8 328.3,779.8 331.7,781.5 336.7,779.8 355,779.8 358.3,781 370,781 378.3,779 385,776.8 390,778.2 398.3,778.5 406.7,782 415,787.7 423.3,793.7 431.7,799.8 440,809 448.3,814.8 456.7,822.3 465,829.3 478.3,829.3 480,829.3 486.7,829.8 496.7,833.2 505,836.5 510,838.7 515,836.5 521.7,838.2 530,841 538.3,844 544.2,847.3 551.7,860.7 558.3,866.5 565,874 570,879 578.3,883.2 586.7,887.3 593.3,887 610,886.5 616.7,884.8 625,876.5 635,867.3 643.3,862.7 650,860.7 656.7,862.3 668.3,862.3 676.7,857.3 686.7,849 696.7,846.5 705,837.3 713.3,829.8 718.3,826 720,826.5 726.7,820.7 736.7,816 750,815.7 761.7,809.8 776.7,802.3 781.7,801 800,801 806.7,805.7 815,808.7 826.7,814 836.7,822.3 845,829 853.3,839.8 861.7,843.2 871.7,849 880,847.7 890,844 896.7,839 903.3,835.7 911.7,836.5 920,837 928.3,841.5 936.7,844.8 941.7,846 946.7,844.3 953.3,844.3 958.3,846 960,846 971.7,844 980,840.7 988.3,834 1003.3,826 1016.7,826 1020,827.8 1033.3,827.8 1036.7,826 1043.3,826 1046.7,827.8 1053.3,828.7 1070,829.8 1075,832.3 1083.3,835.7 1091.7,837 1101.7,837 1110,840.3 1120,844.8 1128.3,842.7 1136.7,839.8 1143.3,836.5 1155,832 1168.3,824 1181.7,821.5 1189.2,818.7 1195,820.7 1198.3,821.8 1200,822.3 1208.3,825.3 1216.7,827.3 1221.7,834.8 1228.3,840.7 1238.3,850.7 1250,862.3 1258.3,864.8 1268.3,871.5 1277.5,869.8 1288.3,859 1296.7,853.2 1303.3,850.3 1316.7,846 1333.3,845.7 1340,843.7 1348.3,839 1357.5,834.8 1363.3,825.7 1371.7,817.3 1380,809.8 1391.7,800.7 1400,799 1410,797.3 1418.3,791.5 1427.5,782.3 1435.3,778.2" />
<rect x="1467.3" y="10" width="2.1" height="883" fill="#a20000"/>
<rect x="2.3" y="537.4" width="1486" height="2" fill="#a20000"/>
<rect x="2.3" y="712.4" width="1486" height="2" fill="#a20000"/>
<rect x="2.3" y="890.2" width="1486" height="2" fill="#a20000"/>
<rect x="1469.7" y="715.2" width="18.5" height="1.6" fill="#a20000"/>
<rect x="1469.7" y="715.2" width="1.7" height="176" fill="#a20000"/>
<rect x="1468.3" y="690.4" width="20" height="1.6" fill="#a20000"/>
<rect x="1468.3" y="52.8" width="8.4" height="1.8" fill="#a20000"/>
<rect x="1468.3" y="116" width="8.4" height="1.8" fill="#a20000"/>
<rect x="1468.3" y="180.3" width="8.4" height="1.8" fill="#a20000"/>
<rect x="1468.3" y="244.4" width="8.4" height="1.8" fill="#a20000"/>
<rect x="1468.3" y="308.3" width="8.4" height="1.8" fill="#a20000"/>
<rect x="1468.3" y="372.4" width="8.4" height="1.8" fill="#a20000"/>
<rect x="1468.3" y="436.9" width="8.4" height="1.8" fill="#a20000"/>
<rect x="1468.3" y="499.9" width="8.4" height="1.8" fill="#a20000"/>
<rect x="1468.3" y="84.5" width="4" height="1.6" fill="#a20000"/>
<rect x="1468.3" y="148.2" width="4" height="1.6" fill="#a20000"/>
<rect x="1468.3" y="212.4" width="4" height="1.6" fill="#a20000"/>
<rect x="1468.3" y="276.4" width="4" height="1.6" fill="#a20000"/>
<rect x="1468.3" y="340.7" width="4" height="1.6" fill="#a20000"/>
<rect x="1468.3" y="405.6" width="4" height="1.6" fill="#a20000"/>
<rect x="1468.3" y="468.5" width="4" height="1.6" fill="#a20000"/>
<rect x="1468.3" y="586.9" width="8.4" height="1.8" fill="#a20000"/>
<rect x="1468.3" y="629.1" width="8.4" height="1.8" fill="#a20000"/>
<rect x="1468.3" y="669.6" width="8.4" height="1.8" fill="#a20000"/>
<rect x="1468.3" y="608.2" width="4" height="1.6" fill="#a20000"/>
<rect x="1468.3" y="650.2" width="4" height="1.6" fill="#a20000"/>
<rect x="1468.3" y="792.6" width="8.6" height="1.8" fill="#a20000"/>
<rect x="100.9" y="891" width="1.6" height="2" fill="#a20000"/>
<rect x="140.9" y="891" width="1.6" height="2" fill="#a20000"/>
<rect x="180.5" y="891" width="1.6" height="2" fill="#a20000"/>
<rect x="220.5" y="891" width="1.6" height="2" fill="#a20000"/>
<rect x="260" y="891" width="1.6" height="2" fill="#a20000"/>
<rect x="309.2" y="891" width="1.6" height="2" fill="#a20000"/>
<rect x="357.5" y="891" width="1.6" height="2" fill="#a20000"/>
<rect x="406.7" y="891" width="1.6" height="2" fill="#a20000"/>
<rect x="455.9" y="891" width="1.6" height="2" fill="#a20000"/>
<rect x="498.2" y="891" width="1.6" height="2" fill="#a20000"/>
<rect x="543.2" y="891" width="1.6" height="2" fill="#a20000"/>
<rect x="586.7" y="891" width="1.6" height="2" fill="#a20000"/>
<rect x="630.2" y="891" width="1.6" height="2" fill="#a20000"/>
<rect x="680.2" y="891" width="1.6" height="2" fill="#a20000"/>
<rect x="727.5" y="891" width="1.6" height="2" fill="#a20000"/>
<rect x="777.2" y="891" width="1.6" height="2" fill="#a20000"/>
<rect x="825.2" y="891" width="1.6" height="2" fill="#a20000"/>
<rect x="875.9" y="891" width="1.6" height="2" fill="#a20000"/>
<rect x="926.7" y="891" width="1.6" height="2" fill="#a20000"/>
<rect x="976.7" y="891" width="1.6" height="2" fill="#a20000"/>
<rect x="1027.5" y="891" width="1.6" height="2" fill="#a20000"/>
<rect x="1070" y="891" width="1.6" height="2" fill="#a20000"/>
<rect x="1111.7" y="891" width="1.6" height="2" fill="#a20000"/>
<rect x="1153.4" y="891" width="1.6" height="2" fill="#a20000"/>
<rect x="1195.9" y="891" width="1.6" height="2" fill="#a20000"/>
<rect x="1236.2" y="891" width="1.6" height="2" fill="#a20000"/>
<rect x="1275" y="891" width="1.6" height="2" fill="#a20000"/>
<rect x="1315.5" y="891" width="1.6" height="2" fill="#a20000"/>
<rect x="1354.5" y="891" width="1.6" height="2" fill="#a20000"/>
<path fill="none" stroke="#a20000" stroke-width="1.5" d="M1435.4 17.5 l7.9 7.9 l-7.9 7.9 l-7.9 -7.9z"/>
<rect x="1450.3" y="17.9" width="13.6" height="15" fill="none" stroke="#a20000" stroke-width="1.7"/>
<line x1="1459.3" y1="18" x2="1459.3" y2="33" stroke="#a20000" stroke-width="1.6"/>
<g fill="none" stroke="#c8c8c8" stroke-width="1.35" stroke-linecap="butt" stroke-linejoin="miter"><path transform="translate(3.4 15)" d="M0.3 6.2 L5.4 0.6 L10.6 6.2 M2.4 6.8 V15 Q2.4 16.8 4.2 16.8 H10.2 M2.4 8.8 H8.8 V12.8 H4.8 M12.6 3 V13 M15.8 0.5 V17 L14.2 17.6"/>
<path transform="translate(21.5 15)" d="M6 0.5 V16.6 M10.6 0.5 V16.6 M1.2 5 L3.8 11.2 M15.4 5 L12.8 11.2 M0 16.8 H16.6"/>
<path transform="translate(39.7 15)" d="M0 5 H6.6 M3.5 0.5 V17.6 M3.4 6 L0.3 12.4 M3.6 7.2 L6.2 10.6 M8.4 2.8 L16 1 M8.6 2.8 V10 Q8.4 14.6 6.6 17.6 M9 7 H15.2 Q13.6 13.6 8.6 17.6 M10.2 8.8 Q12.4 14.8 16.6 17.6"/>
<path transform="translate(58.5 15)" d="M0 5 H6.4 M3.6 0.5 V17 L2.2 17.6 M0 12.8 L6.6 10 M8.4 0.8 V6.6 H16.2 M15.6 1.4 L8.8 4.4 M8.8 9.2 H15.6 V17.6 H8.8 Z M8.8 13.2 H15.6"/>
<path transform="translate(77 15)" d="M4.2 0 Q-1.4 9.4 4.2 18.8"/>
<path transform="translate(83.3 15)" d="M1.4 1 H13 V17.6 H1.4 Z M1.4 9 H13"/>
<path transform="translate(99 15)" d="M5 0.5 L1 6 H5 L0.5 12 L6 11 M0.4 16.6 L6.2 14.4 M8 5.2 L15 4 M7.6 9.8 L16 8.2 M10.6 0.5 Q11 10 16.6 17.6 M15.2 10.8 L9 17.6 M13.8 1 L15.4 2.6"/>
<rect x="119.8" y="31" width="1.6" height="1.8" fill="#c8c8c8" stroke="none"/>
<path transform="translate(122.4 15)" d="M4 0.4 L5.6 3 M12.2 0.4 L10.6 3 M0 4 H16.6 M1.6 17.6 V7 H7.6 V17 L6.4 17.6 M1.6 10.4 H7.6 M1.6 13.6 H7.6 M10.6 7.4 V14.6 M14.6 6.4 V17 L13.2 17.6"/>
<path transform="translate(141 15)" d="M3.6 0.4 L1 4.2 M2.8 2 H16 M3.6 4.6 H13 V10.6 H3.6 Z M3.6 7.6 H13 M6 11 L2 15.6 M5.4 12.6 H12.6 Q9 16.4 1.6 18 M5.8 13.6 Q10 17 16.2 18"/>
<path transform="translate(158.7 15)" d="M0 5 H6.6 M3.5 0.5 V17.6 M3.4 6 L0.3 12.4 M3.6 7.2 L6.2 10.6 M8 3 H15.2 Q13.4 12.4 7.8 17.6 M9 5 Q11.6 13.6 16.6 17.6"/>
<path transform="translate(175.4 15)" d="M0.6 0 Q6.2 9.4 0.6 18.8"/></g>
<text x="211.5" y="30.4" fill="#f6f6f6" font-size="18.8" textLength="109" lengthAdjust="spacing">MA5: 1359.80</text>
<text x="330" y="30.4" fill="#ffff00" font-size="18.8" textLength="118.5" lengthAdjust="spacing">MA10: 1347.74</text>
<text x="459" y="30.4" fill="#ff00ff" font-size="18.8" textLength="117.5" lengthAdjust="spacing">MA20: 1307.31</text>
<text x="587.5" y="30.4" fill="#00f000" font-size="18.8" textLength="130" lengthAdjust="spacing">MA250: 1650.55</text>
<text x="125.2" y="56" fill="#c8c8c8" font-size="18.8" textLength="64.4" lengthAdjust="spacing">1918.22</text>
<text x="1298.5" y="519.6" fill="#c8c8c8" font-size="18.8" textLength="62" lengthAdjust="spacing">1184.91</text>
<text x="2.6" y="556.8" fill="#e8e8e8" font-size="18.8" textLength="190" lengthAdjust="spacing">VOLUME: 74507256.00</text>
<text x="202.5" y="556.8" fill="#e8e8e8" font-size="18.8" textLength="151.3" lengthAdjust="spacing">MA5: 63808588.00</text>
<text x="362.4" y="556.8" fill="#ffff00" font-size="18.8" textLength="162" lengthAdjust="spacing">MA10: 62400888.00</text>
<text x="3" y="733" fill="#dcdcdc" font-size="18.8" textLength="122.3" lengthAdjust="spacing">MACD(12,26,9)</text>
<text x="134.7" y="733" fill="#e8e8e8" font-size="18.8" textLength="80.6" lengthAdjust="spacing">DIF: 10.21</text>
<text x="225.8" y="733" fill="#ffff00" font-size="18.8" textLength="85.8" lengthAdjust="spacing">DEA: -4.78</text>
<text x="321" y="733" fill="#ff00ff" font-size="18.8" textLength="104.3" lengthAdjust="spacing">MACD: 29.98</text>
<text x="1471.4" y="708.6" fill="#c83232" font-size="16.5">X1</text>
</svg>
<div id="top"></div>
<div class="btn" style="left:2px;width:25px;background:#f4f4f4;height:2px"></div>
<div class="btn" style="left:581px;width:55px"></div>
<div class="btn" style="left:649px;width:55px"></div>
<svg width="1488" height="4" viewBox="0 0 1488 4"><rect x="40" y="0" width="3" height="1.4" fill="#707070"/>
<rect x="47" y="0" width="3" height="1.4" fill="#707070"/>
<rect x="53" y="0" width="5" height="1.4" fill="#707070"/>
<rect x="62" y="0" width="2" height="1.4" fill="#707070"/>
<rect x="68" y="0" width="2" height="1.4" fill="#707070"/>
<rect x="73" y="0" width="4" height="1.4" fill="#707070"/>
<rect x="108" y="0" width="3" height="1.4" fill="#707070"/>
<rect x="113" y="0" width="5" height="1.4" fill="#707070"/>
<rect x="122" y="0" width="5" height="1.4" fill="#707070"/>
<rect x="130" y="0" width="3" height="1.4" fill="#707070"/>
<rect x="135" y="0" width="3" height="1.4" fill="#707070"/>
<rect x="170" y="0" width="5" height="1.4" fill="#707070"/>
<rect x="179" y="0" width="2" height="1.4" fill="#707070"/>
<rect x="185" y="0" width="2" height="1.4" fill="#707070"/>
<rect x="189" y="0" width="2" height="1.4" fill="#707070"/>
<rect x="194" y="0" width="2" height="1.4" fill="#707070"/>
<rect x="199" y="0" width="5" height="1.4" fill="#707070"/>
<rect x="236" y="0" width="5" height="1.4" fill="#707070"/>
<rect x="245" y="0" width="5" height="1.4" fill="#707070"/>
<rect x="253" y="0" width="5" height="1.4" fill="#707070"/>
<rect x="260" y="0" width="4" height="1.4" fill="#707070"/>
<rect x="266" y="0" width="2" height="1.4" fill="#707070"/>
<rect x="292" y="0" width="5" height="1.4" fill="#707070"/>
<rect x="299" y="0" width="4" height="1.4" fill="#707070"/>
<rect x="307" y="0" width="5" height="1.4" fill="#707070"/>
<rect x="316" y="0" width="4" height="1.4" fill="#707070"/>
<rect x="323" y="0" width="5" height="1.4" fill="#707070"/>
<rect x="332" y="0" width="4" height="1.4" fill="#707070"/>
<rect x="340" y="0" width="5" height="1.4" fill="#707070"/>
<rect x="349" y="0" width="3" height="1.4" fill="#707070"/>
<rect x="355" y="0" width="2" height="1.4" fill="#707070"/>
<rect x="360" y="0" width="3" height="1.4" fill="#707070"/>
<rect x="384" y="0" width="4" height="1.4" fill="#707070"/>
<rect x="392" y="0" width="2" height="1.4" fill="#707070"/>
<rect x="398" y="0" width="3" height="1.4" fill="#707070"/>
<rect x="405" y="0" width="4" height="1.4" fill="#707070"/>
<rect x="412" y="0" width="2" height="1.4" fill="#707070"/>
<rect x="416" y="0" width="5" height="1.4" fill="#707070"/>
<rect x="450" y="0" width="5" height="1.4" fill="#707070"/>
<rect x="457" y="0" width="4" height="1.4" fill="#707070"/>
<rect x="463" y="0" width="5" height="1.4" fill="#707070"/>
<rect x="470" y="0" width="2" height="1.4" fill="#707070"/>
<rect x="475" y="0" width="5" height="1.4" fill="#707070"/>
<rect x="483" y="0" width="2" height="1.4" fill="#707070"/>
<rect x="487" y="0" width="2" height="1.4" fill="#707070"/>
<rect x="520" y="0" width="4" height="1.4" fill="#707070"/>
<rect x="528" y="0" width="4" height="1.4" fill="#707070"/>
<rect x="536" y="0" width="3" height="1.4" fill="#707070"/>
<rect x="541" y="0" width="4" height="1.4" fill="#707070"/>
<rect x="547" y="0" width="2" height="1.4" fill="#707070"/>
<rect x="551" y="0" width="2" height="1.4" fill="#707070"/>
<rect x="992" y="0" width="5" height="1.4" fill="#707070"/>
<rect x="1000" y="0" width="4" height="1.4" fill="#707070"/>
<rect x="1006" y="0" width="2" height="1.4" fill="#707070"/>
<rect x="1011" y="0" width="4" height="1.4" fill="#707070"/>
<rect x="1018" y="0" width="3" height="1.4" fill="#707070"/>
<rect x="1024" y="0" width="5" height="1.4" fill="#707070"/>
<rect x="1032" y="0" width="5" height="1.4" fill="#707070"/>
<rect x="1041" y="0" width="2" height="1.4" fill="#707070"/>
<rect x="1047" y="0" width="4" height="1.4" fill="#707070"/>
<rect x="1054" y="0" width="3" height="1.4" fill="#707070"/>
<rect x="1136" y="0" width="5" height="1.4" fill="#707070"/>
<rect x="1144" y="0" width="4" height="1.4" fill="#707070"/>
<rect x="1152" y="0" width="4" height="1.4" fill="#707070"/>
<rect x="1158" y="0" width="5" height="1.4" fill="#707070"/>
<rect x="1167" y="0" width="4" height="1.4" fill="#707070"/>
<rect x="1173" y="0" width="5" height="1.4" fill="#707070"/>
<rect x="1182" y="0" width="3" height="1.4" fill="#707070"/>
<rect x="1187" y="0" width="4" height="1.4" fill="#707070"/>
<rect x="1194" y="0" width="4" height="1.4" fill="#707070"/>
<rect x="1202" y="0" width="4" height="1.4" fill="#707070"/>
<rect x="592" y="0" width="4" height="1.4" fill="#e08080"/>
<rect x="600" y="0" width="5" height="1.4" fill="#e08080"/>
<rect x="607" y="0" width="2" height="1.4" fill="#e08080"/>
<rect x="613" y="0" width="2" height="1.4" fill="#e08080"/>
<rect x="618" y="0" width="4" height="1.4" fill="#e08080"/>
<rect x="626" y="0" width="5" height="1.4" fill="#e08080"/>
<rect x="660" y="0" width="4" height="1.4" fill="#e08080"/>
<rect x="666" y="0" width="4" height="1.4" fill="#e08080"/>
<rect x="672" y="0" width="4" height="1.4" fill="#e08080"/>
<rect x="679" y="0" width="4" height="1.4" fill="#e08080"/>
<rect x="686" y="0" width="5" height="1.4" fill="#e08080"/>
<rect x="693" y="0" width="2" height="1.4" fill="#e08080"/></svg>
<div id="left"></div>
</body></html>
